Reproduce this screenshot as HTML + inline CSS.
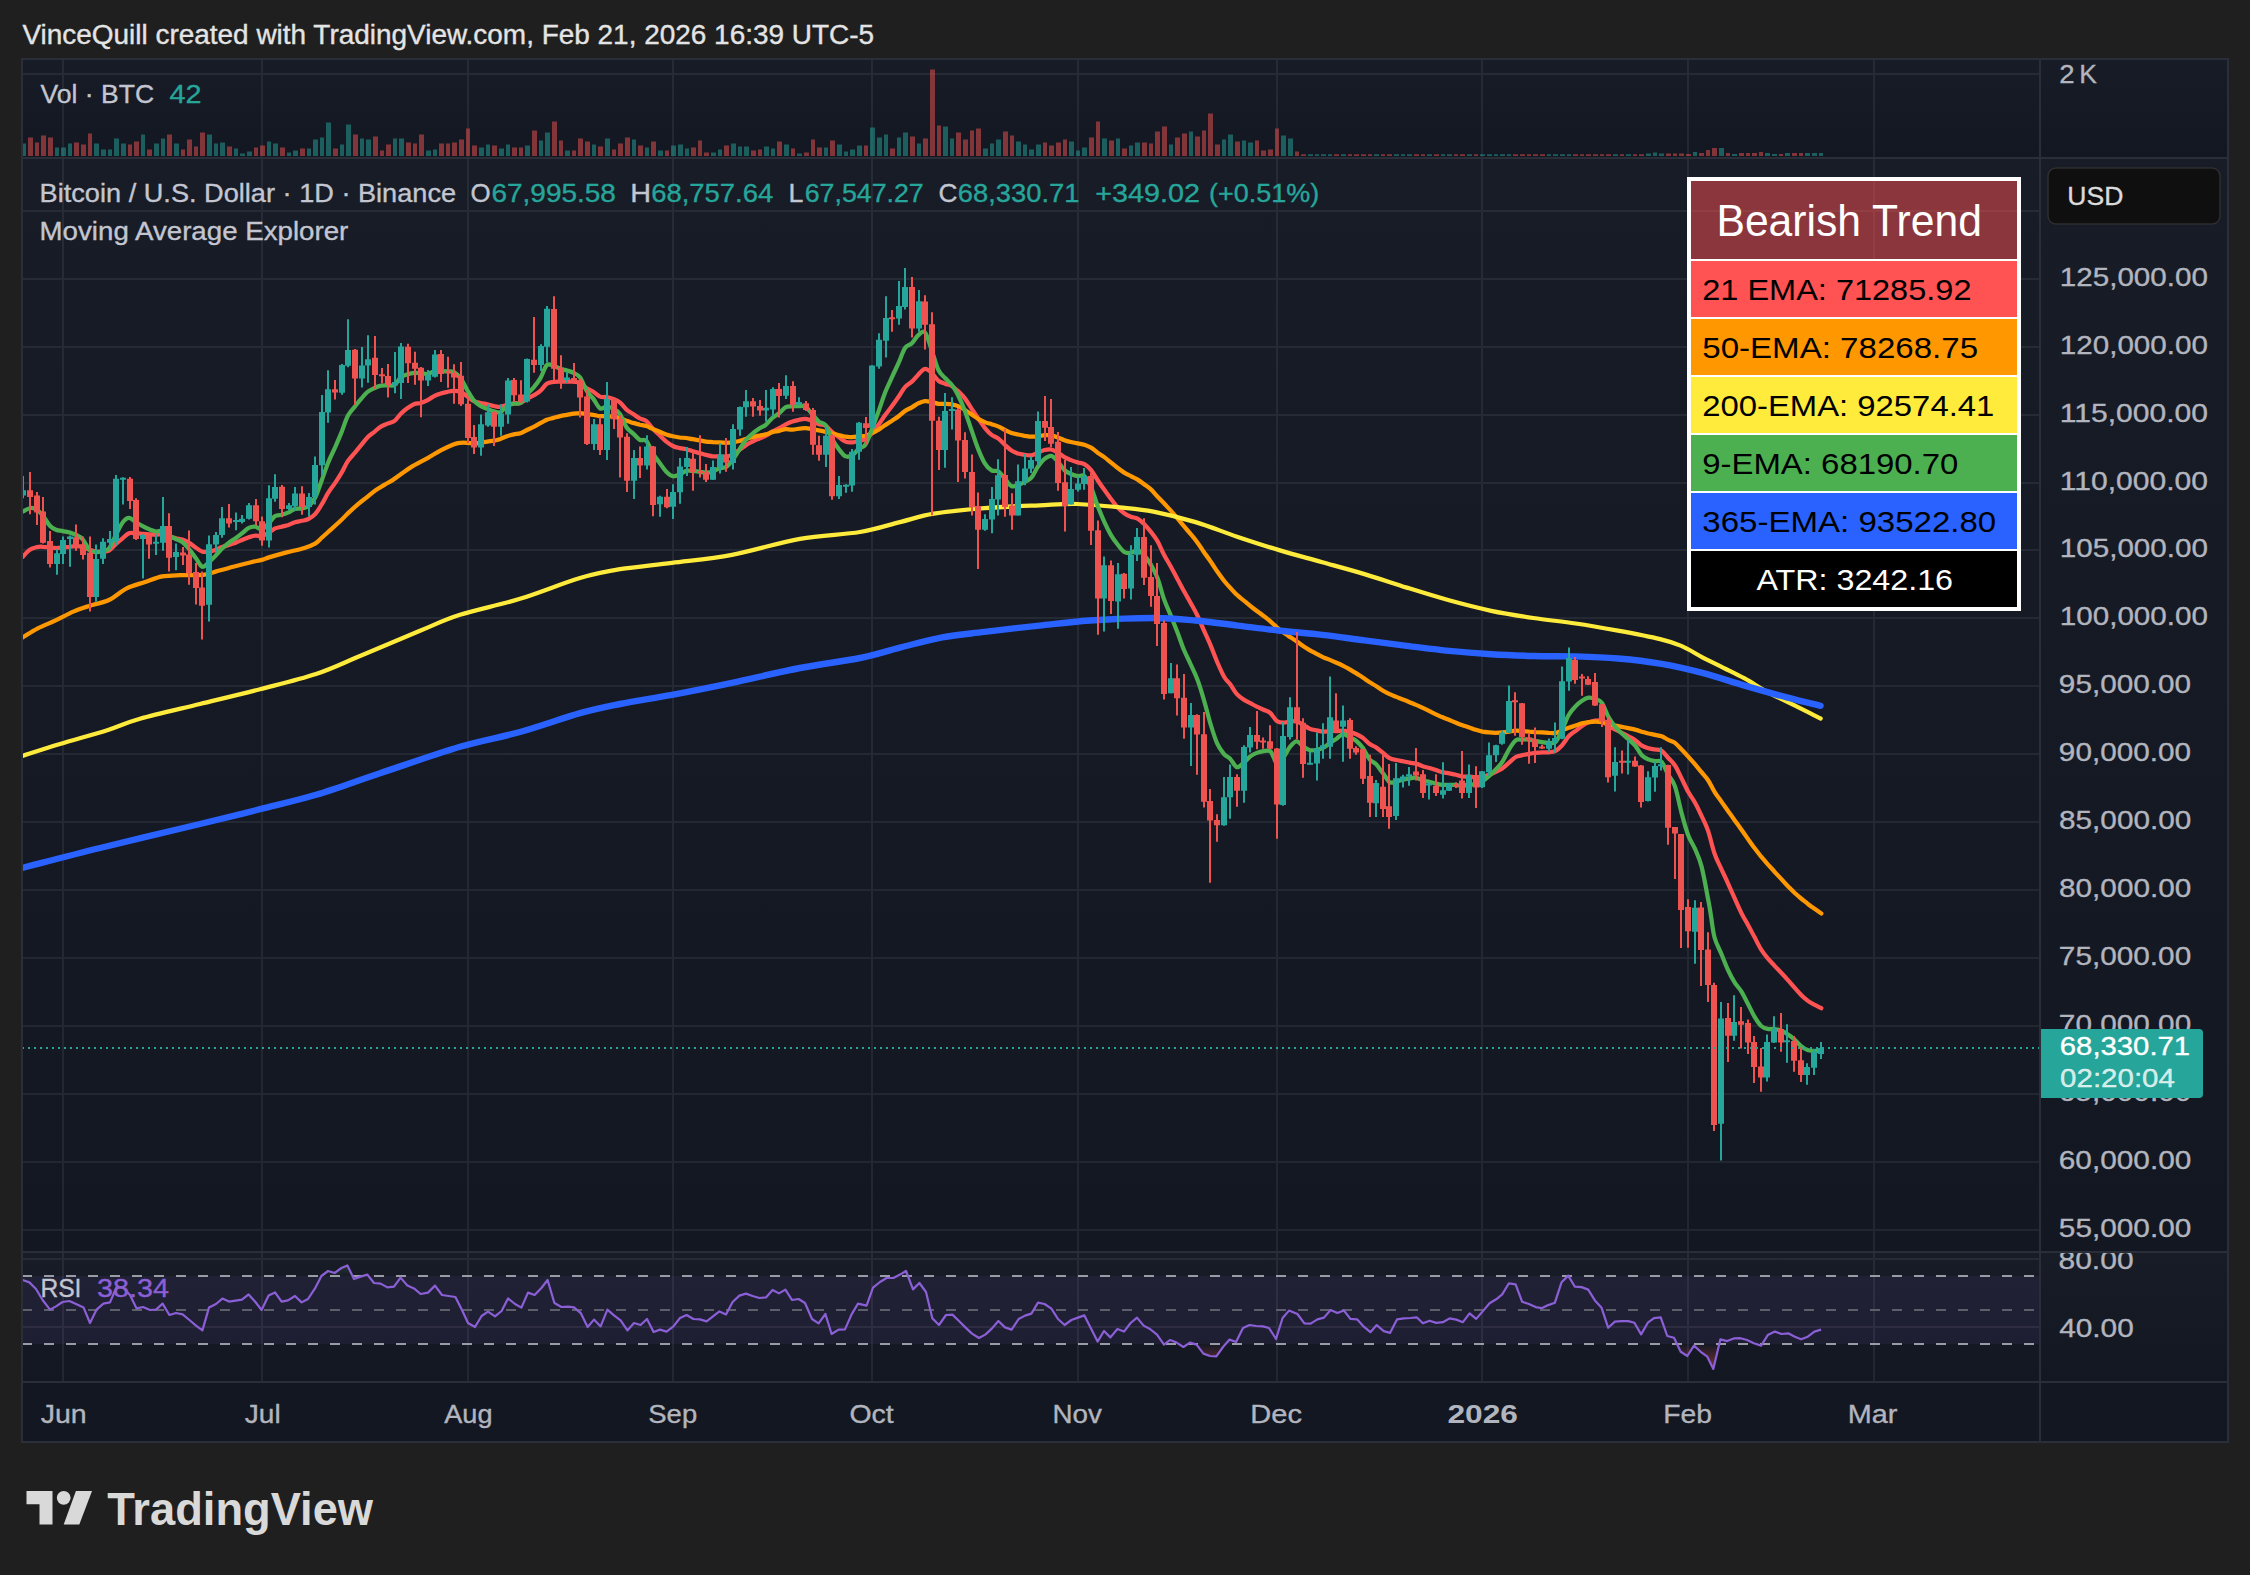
<!DOCTYPE html>
<html lang="en"><head><meta charset="utf-8"><title>BTCUSD chart</title><style>html,body{margin:0;padding:0;background:#1f1f1f;overflow:hidden}svg{display:block}</style></head><body>
<svg width="2250" height="1575" viewBox="0 0 2250 1575" font-family='"Liberation Sans", Arial, Helvetica, sans-serif'>
<defs><linearGradient id="bg" x1="0" y1="0" x2="0" y2="1"><stop offset="0" stop-color="#181c27"/><stop offset="1" stop-color="#131722"/></linearGradient><clipPath id="cm"><rect x="23" y="159" width="2016" height="1092"/></clipPath><clipPath id="cv"><rect x="23" y="60" width="2016" height="97"/></clipPath><clipPath id="cr"><rect x="23" y="1253" width="2016" height="128"/></clipPath><clipPath id="cra"><rect x="2041" y="1253" width="186" height="128"/></clipPath><clipPath id="cma"><rect x="2041" y="159" width="186" height="1092"/></clipPath><clipPath id="lo"><rect x="22" y="1344" width="2018" height="40"/></clipPath><clipPath id="hi"><rect x="22" y="1240" width="2018" height="36"/></clipPath><linearGradient id="os" gradientUnits="userSpaceOnUse" x1="0" y1="1344" x2="0" y2="1376"><stop offset="0" stop-color="#ef5350" stop-opacity="0"/><stop offset="1" stop-color="#ef5350" stop-opacity="0.6"/></linearGradient><linearGradient id="ob" gradientUnits="userSpaceOnUse" x1="0" y1="1276" x2="0" y2="1256"><stop offset="0" stop-color="#4caf50" stop-opacity="0"/><stop offset="1" stop-color="#4caf50" stop-opacity="0.35"/></linearGradient></defs>
<rect width="2250" height="1575" fill="#1f1f1f"/>
<rect x="22" y="59" width="2206" height="99" fill="url(#bg)"/>
<rect x="22" y="158" width="2206" height="1094" fill="url(#bg)"/>
<rect x="22" y="1252" width="2206" height="130" fill="url(#bg)"/>
<rect x="22" y="1382" width="2206" height="60" fill="#131722"/>
<path d="M63 60V1381M262 60V1381M468 60V1381M673 60V1381M872 60V1381M1078 60V1381M1277 60V1381M1482 60V1381M1688 60V1381M1874 60V1381M23 1230H2039M23 1162H2039M23 1094H2039M23 1026H2039M23 958H2039M23 890H2039M23 822H2039M23 754H2039M23 686H2039M23 618H2039M23 550H2039M23 483H2039M23 415H2039M23 347H2039M23 279H2039M23 211H2039M23 74H2039M23 1259H2039M23 1327H2039" stroke="rgba(240,243,250,0.07)" stroke-width="2" fill="none"/>
<rect x="23" y="1276" width="2016" height="68" fill="rgba(126,87,194,0.1)"/>
<path d="M22 1276H2039M22 1344H2039" stroke="#9a9ca5" stroke-width="2" stroke-dasharray="10 12" fill="none"/>
<path d="M22 1310H2039" stroke="#5d606b" stroke-width="2" stroke-dasharray="10 12" fill="none"/>
<g clip-path="url(#cv)"><path d="M21 156v-12.6h5v12.6zM55 156v-8.6h4v8.6zM61 156v-8.6h5v8.6zM68 156v-12.6h4v12.6zM94 156v-12.6h5v12.6zM101 156v-6.6h5v6.6zM108 156v-6.6h4v6.6zM114 156v-17.6h5v17.6zM121 156v-12.6h5v12.6zM141 156v-21.6h4v21.6zM154 156v-12.6h5v12.6zM161 156v-17.6h4v17.6zM174 156v-12.6h5v12.6zM207 156v-21.6h5v21.6zM214 156v-12.6h4v12.6zM220 156v-13.6h5v13.6zM234 156v-7.6h4v7.6zM240 156v-2.6h5v2.6zM247 156v-4.6h5v4.6zM267 156v-14.6h4v14.6zM273 156v-12.6h5v12.6zM287 156v-3.6h4v3.6zM293 156v-5.6h5v5.6zM307 156v-7.6h4v7.6zM313 156v-16.6h5v16.6zM320 156v-18.6h4v18.6zM326 156v-33.6h5v33.6zM340 156v-11.6h4v11.6zM346 156v-31.6h5v31.6zM360 156v-17.6h4v17.6zM366 156v-16.6h5v16.6zM393 156v-17.6h4v17.6zM399 156v-17.6h5v17.6zM426 156v-5.6h5v5.6zM433 156v-6.6h4v6.6zM479 156v-8.6h5v8.6zM486 156v-11.6h4v11.6zM499 156v-7.6h5v7.6zM506 156v-11.6h4v11.6zM525 156v-10.6h5v10.6zM539 156v-15.6h4v15.6zM545 156v-23.6h5v23.6zM565 156v-5.6h5v5.6zM592 156v-11.6h4v11.6zM605 156v-17.6h5v17.6zM632 156v-16.6h4v16.6zM645 156v-8.6h4v8.6zM658 156v-5.6h5v5.6zM671 156v-10.6h5v10.6zM678 156v-11.6h5v11.6zM685 156v-7.6h4v7.6zM711 156v-3.6h5v3.6zM718 156v-6.6h4v6.6zM731 156v-12.6h5v12.6zM738 156v-9.6h4v9.6zM744 156v-9.6h5v9.6zM764 156v-9.6h5v9.6zM771 156v-7.6h4v7.6zM784 156v-11.6h5v11.6zM797 156v-2.6h5v2.6zM824 156v-8.6h4v8.6zM837 156v-11.6h5v11.6zM844 156v-4.6h4v4.6zM850 156v-6.6h5v6.6zM857 156v-10.6h5v10.6zM870 156v-28.6h5v28.6zM877 156v-18.6h5v18.6zM884 156v-21.6h4v21.6zM897 156v-18.6h4v18.6zM903 156v-23.6h5v23.6zM917 156v-12.6h4v12.6zM943 156v-29.6h5v29.6zM950 156v-17.6h4v17.6zM983 156v-7.6h5v7.6zM990 156v-12.6h4v12.6zM996 156v-16.6h5v16.6zM1016 156v-14.6h5v14.6zM1023 156v-11.6h4v11.6zM1029 156v-6.6h5v6.6zM1036 156v-11.6h5v11.6zM1069 156v-14.6h5v14.6zM1076 156v-5.6h4v5.6zM1082 156v-8.6h5v8.6zM1102 156v-17.6h5v17.6zM1116 156v-17.6h4v17.6zM1129 156v-10.6h4v10.6zM1135 156v-13.6h5v13.6zM1169 156v-11.6h4v11.6zM1189 156v-24.6h4v24.6zM1222 156v-16.6h4v16.6zM1228 156v-21.6h5v21.6zM1242 156v-15.6h4v15.6zM1248 156v-13.6h5v13.6zM1281 156v-20.6h5v20.6zM1288 156v-17.6h5v17.6zM1308 156v-1.8h5v1.8zM1315 156v-1.8h4v1.8zM1321 156v-1.8h5v1.8zM1328 156v-1.8h4v1.8zM1341 156v-1.8h5v1.8zM1374 156v-1.8h5v1.8zM1394 156v-1.8h5v1.8zM1401 156v-1.8h4v1.8zM1407 156v-1.8h5v1.8zM1427 156v-1.8h5v1.8zM1441 156v-1.8h4v1.8zM1447 156v-1.8h5v1.8zM1467 156v-1.8h5v1.8zM1480 156v-1.8h5v1.8zM1487 156v-1.8h5v1.8zM1494 156v-1.8h4v1.8zM1500 156v-1.8h5v1.8zM1507 156v-1.8h4v1.8zM1547 156v-1.8h4v1.8zM1553 156v-1.8h5v1.8zM1560 156v-1.8h5v1.8zM1567 156v-1.8h4v1.8zM1613 156v-1.8h5v1.8zM1626 156v-1.8h5v1.8zM1646 156v-2.5h5v2.5zM1653 156v-3.5h4v3.5zM1659 156v-2.5h5v2.5zM1693 156v-4.0h4v4.0zM1719 156v-8.0h5v8.0zM1732 156v-2.0h5v2.0zM1765 156v-3.0h5v3.0zM1772 156v-2.0h5v2.0zM1785 156v-3.0h5v3.0zM1805 156v-3.0h5v3.0zM1812 156v-3.0h5v3.0zM1819 156v-3.0h4v3.0z" fill="rgba(38,166,154,0.5)"/><path d="M28 156v-18.6h5v18.6zM35 156v-13.6h4v13.6zM41 156v-20.6h5v20.6zM48 156v-18.6h5v18.6zM74 156v-13.6h5v13.6zM81 156v-11.6h5v11.6zM88 156v-22.6h4v22.6zM128 156v-11.6h4v11.6zM134 156v-14.6h5v14.6zM147 156v-6.6h5v6.6zM167 156v-21.6h5v21.6zM181 156v-6.6h4v6.6zM187 156v-16.6h5v16.6zM194 156v-9.6h4v9.6zM200 156v-23.6h5v23.6zM227 156v-9.6h5v9.6zM254 156v-8.6h4v8.6zM260 156v-10.6h5v10.6zM280 156v-8.6h5v8.6zM300 156v-7.6h5v7.6zM333 156v-7.6h5v7.6zM353 156v-21.6h5v21.6zM373 156v-19.6h5v19.6zM380 156v-5.6h4v5.6zM386 156v-11.6h5v11.6zM406 156v-13.6h5v13.6zM413 156v-12.6h4v12.6zM419 156v-21.6h5v21.6zM439 156v-12.6h5v12.6zM446 156v-12.6h4v12.6zM452 156v-13.6h5v13.6zM459 156v-16.6h5v16.6zM466 156v-27.6h4v27.6zM472 156v-10.6h5v10.6zM492 156v-10.6h5v10.6zM512 156v-8.6h5v8.6zM519 156v-8.6h4v8.6zM532 156v-25.6h5v25.6zM552 156v-34.6h5v34.6zM559 156v-15.6h4v15.6zM572 156v-5.6h4v5.6zM578 156v-17.6h5v17.6zM585 156v-14.6h5v14.6zM598 156v-9.6h5v9.6zM612 156v-6.6h4v6.6zM618 156v-12.6h5v12.6zM625 156v-18.6h5v18.6zM638 156v-10.6h5v10.6zM651 156v-14.6h5v14.6zM665 156v-5.6h4v5.6zM691 156v-8.6h5v8.6zM698 156v-15.6h4v15.6zM704 156v-3.6h5v3.6zM724 156v-10.6h5v10.6zM751 156v-5.6h5v5.6zM758 156v-6.6h4v6.6zM777 156v-14.6h5v14.6zM791 156v-7.6h4v7.6zM804 156v-3.6h5v3.6zM811 156v-16.6h4v16.6zM817 156v-8.6h5v8.6zM830 156v-15.6h5v15.6zM864 156v-10.6h4v10.6zM890 156v-7.6h5v7.6zM910 156v-19.6h5v19.6zM923 156v-17.6h5v17.6zM930 156v-86.6h5v86.6zM937 156v-30.6h4v30.6zM956 156v-23.6h5v23.6zM963 156v-16.6h5v16.6zM970 156v-25.6h4v25.6zM976 156v-27.6h5v27.6zM1003 156v-24.6h5v24.6zM1010 156v-20.6h4v20.6zM1043 156v-13.6h4v13.6zM1049 156v-10.6h5v10.6zM1056 156v-13.6h5v13.6zM1063 156v-16.6h4v16.6zM1089 156v-18.6h5v18.6zM1096 156v-34.6h4v34.6zM1109 156v-15.6h5v15.6zM1122 156v-7.6h5v7.6zM1142 156v-13.6h5v13.6zM1149 156v-12.6h4v12.6zM1155 156v-24.6h5v24.6zM1162 156v-29.6h5v29.6zM1175 156v-18.6h5v18.6zM1182 156v-22.6h5v22.6zM1195 156v-19.6h5v19.6zM1202 156v-25.6h4v25.6zM1208 156v-42.6h5v42.6zM1215 156v-11.6h5v11.6zM1235 156v-14.6h5v14.6zM1255 156v-15.6h4v15.6zM1261 156v-5.6h5v5.6zM1268 156v-6.6h5v6.6zM1275 156v-27.6h4v27.6zM1295 156v-4.6h4v4.6zM1301 156v-1.8h5v1.8zM1334 156v-1.8h5v1.8zM1348 156v-1.8h4v1.8zM1354 156v-1.8h5v1.8zM1361 156v-1.8h5v1.8zM1368 156v-1.8h4v1.8zM1381 156v-1.8h4v1.8zM1387 156v-1.8h5v1.8zM1414 156v-1.8h5v1.8zM1421 156v-1.8h4v1.8zM1434 156v-1.8h5v1.8zM1454 156v-1.8h4v1.8zM1460 156v-1.8h5v1.8zM1474 156v-1.8h4v1.8zM1513 156v-1.8h5v1.8zM1520 156v-1.8h5v1.8zM1527 156v-1.8h4v1.8zM1533 156v-1.8h5v1.8zM1540 156v-1.8h5v1.8zM1573 156v-1.8h5v1.8zM1580 156v-1.8h4v1.8zM1586 156v-1.8h5v1.8zM1593 156v-1.8h5v1.8zM1600 156v-1.8h4v1.8zM1606 156v-1.8h5v1.8zM1620 156v-1.8h4v1.8zM1633 156v-1.8h4v1.8zM1639 156v-1.8h5v1.8zM1666 156v-2.5h5v2.5zM1673 156v-2.5h4v2.5zM1679 156v-2.5h5v2.5zM1686 156v-2.0h5v2.0zM1699 156v-3.0h5v3.0zM1706 156v-6.0h4v6.0zM1712 156v-8.0h5v8.0zM1726 156v-3.0h4v3.0zM1739 156v-3.0h5v3.0zM1746 156v-3.0h4v3.0zM1752 156v-3.0h5v3.0zM1759 156v-4.0h4v4.0zM1779 156v-2.0h4v2.0zM1792 156v-3.0h5v3.0zM1799 156v-3.0h4v3.0z" fill="rgba(239,83,80,0.5)"/></g>
<g clip-path="url(#cm)">
<path d="M22.7 556.9C23.9 555.7 27.4 551.4 29.8 549.8C32.1 548.1 34.7 547.6 36.9 547.1C39.1 546.6 40.9 546.7 43.1 546.8C45.3 546.8 47.7 547.3 49.9 547.5C52.0 547.7 54.0 548.0 56.1 548.0C58.2 548.0 60.4 547.7 62.7 547.5C64.9 547.3 67.6 547.0 69.8 546.8C72.0 546.5 73.9 546.2 76.0 546.2C78.1 546.2 80.4 546.2 82.6 546.8C84.8 547.3 87.1 549.0 89.3 549.8C91.6 550.6 93.9 551.3 96.1 551.6C98.3 551.9 100.5 551.7 102.7 551.6C104.8 551.4 106.7 551.9 108.9 550.7C111.1 549.4 113.7 546.0 116.0 543.9C118.3 541.8 120.6 540.0 122.8 538.2C124.9 536.4 126.8 534.1 129.0 533.2C131.2 532.4 133.6 533.2 135.9 533.2C138.2 533.3 140.4 533.6 142.7 533.8C144.9 534.0 147.0 534.2 149.2 534.3C151.5 534.5 153.7 534.7 156.0 534.7C158.3 534.7 160.6 534.1 162.8 534.3C164.9 534.5 166.8 535.4 169.0 536.1C171.2 536.7 173.7 537.6 175.9 538.2C178.1 538.8 180.1 538.9 182.3 539.6C184.5 540.4 186.7 541.4 188.9 542.7C191.1 544.0 193.4 546.0 195.6 547.5C197.9 548.9 200.0 550.9 202.2 551.6C204.4 552.2 206.8 551.9 209.0 551.6C211.2 551.3 213.4 550.5 215.6 549.8C217.7 549.0 219.9 547.9 222.1 547.1C224.4 546.3 226.6 545.7 228.9 545.0C231.1 544.2 233.4 543.5 235.6 542.7C237.9 541.8 240.0 540.9 242.2 540.0C244.4 539.1 246.6 538.1 248.8 537.3C251.0 536.6 253.0 535.8 255.2 535.6C257.4 535.3 259.5 536.6 261.8 536.1C264.1 535.6 266.7 533.8 268.9 532.5C271.1 531.3 273.0 529.4 275.1 528.4C277.2 527.5 279.5 527.3 281.7 526.7C283.9 526.1 286.2 525.6 288.4 524.9C290.7 524.1 292.8 522.9 295.0 522.2C297.2 521.5 299.6 521.3 301.8 520.8C304.0 520.3 306.1 520.1 308.4 519.0C310.6 517.9 312.9 516.7 315.1 514.2C317.3 511.8 319.5 508.0 321.7 504.4C323.9 500.9 325.9 496.4 328.1 492.9C330.3 489.3 332.7 486.5 335.0 483.1C337.3 479.7 339.6 476.1 341.8 472.4C343.9 468.7 345.8 464.1 348.0 460.9C350.2 457.6 352.5 455.6 354.8 452.9C357.0 450.2 359.1 447.6 361.3 444.9C363.5 442.2 365.7 439.1 367.9 436.9C370.1 434.7 372.5 433.3 374.7 431.6C376.8 429.8 378.7 427.9 380.9 426.6C383.1 425.2 385.4 424.5 387.6 423.6C389.9 422.6 392.4 422.5 394.6 420.9C396.8 419.3 398.6 415.9 400.8 413.8C403.0 411.6 405.3 409.7 407.6 408.1C409.8 406.5 412.1 404.9 414.3 404.0C416.5 403.1 418.6 403.6 420.8 403.0C423.0 402.3 425.3 401.3 427.6 400.1C429.8 399.0 431.9 397.3 434.1 396.2C436.3 395.1 438.5 394.3 440.7 393.6C442.9 392.8 445.2 392.2 447.5 391.8C449.7 391.3 451.9 390.9 454.0 390.9C456.2 390.9 458.4 390.9 460.6 391.8C462.8 392.7 465.0 394.7 467.2 396.2C469.4 397.8 471.7 400.1 474.0 401.2C476.2 402.3 478.3 402.5 480.5 403.0C482.7 403.5 484.9 403.7 487.1 404.2C489.3 404.7 491.6 405.6 493.9 406.0C496.1 406.4 498.3 407.1 500.4 406.9C502.6 406.7 504.8 405.3 507.0 404.8C509.2 404.2 511.6 403.6 513.8 403.3C516.0 403.0 518.2 403.7 520.4 403.0C522.5 402.2 524.7 400.2 526.9 398.9C529.2 397.6 531.5 396.7 533.7 395.3C535.9 394.0 538.1 392.8 540.3 390.9C542.5 389.0 544.6 385.3 546.8 383.8C549.1 382.3 551.4 382.4 553.6 382.0C555.8 381.6 558.0 381.7 560.2 381.6C562.4 381.6 564.5 381.6 566.8 381.6C569.0 381.6 571.3 381.4 573.5 381.6C575.7 381.9 577.9 381.8 580.1 382.9C582.3 384.0 584.4 386.7 586.7 388.2C588.9 389.7 591.2 390.4 593.4 391.8C595.6 393.2 597.8 395.7 600.0 396.6C602.2 397.5 604.4 396.7 606.6 397.1C608.8 397.5 611.1 398.0 613.3 398.9C615.6 399.8 617.7 400.7 619.9 402.4C622.1 404.2 624.3 407.6 626.5 409.6C628.7 411.5 631.0 412.5 633.2 414.0C635.5 415.5 637.6 417.3 639.8 418.4C642.0 419.6 644.2 419.3 646.4 421.1C648.6 422.9 650.9 426.7 653.2 429.1C655.4 431.5 657.5 433.3 659.7 435.3C661.9 437.4 664.1 439.8 666.3 441.6C668.5 443.3 670.7 444.9 672.9 446.0C675.1 447.1 677.4 447.6 679.6 448.1C681.9 448.7 684.0 448.7 686.2 449.2C688.4 449.7 690.6 450.7 692.8 451.3C695.0 452.0 697.3 452.5 699.6 453.1C701.8 453.7 703.9 454.4 706.1 454.9C708.3 455.4 710.5 456.1 712.7 456.3C714.9 456.5 717.2 456.3 719.5 456.3C721.7 456.4 723.9 457.0 726.0 456.7C728.2 456.4 730.4 455.7 732.6 454.5C734.8 453.4 737.2 451.5 739.4 449.9C741.6 448.3 743.8 446.5 746.0 445.1C748.1 443.7 750.3 442.7 752.5 441.6C754.8 440.5 757.1 439.5 759.3 438.5C761.5 437.6 763.7 436.9 765.9 435.7C768.1 434.5 770.2 432.7 772.4 431.4C774.7 430.2 777.0 429.4 779.2 428.2C781.4 427.0 783.6 425.4 785.8 424.3C788.0 423.2 790.2 422.3 792.4 421.6C794.7 420.8 796.8 420.2 799.0 419.8C801.2 419.3 803.4 418.7 805.6 418.9C807.8 419.1 810.1 420.1 812.4 421.0C814.6 421.9 816.7 423.5 818.9 424.2C821.1 425.0 823.3 424.3 825.5 425.6C827.7 427.0 830.0 430.3 832.3 432.2C834.5 434.1 836.7 435.5 838.8 437.0C841.0 438.6 843.2 440.8 845.4 441.6C847.6 442.5 850.0 442.5 852.2 442.4C854.4 442.2 856.6 441.1 858.8 440.6C860.9 440.1 863.1 440.6 865.3 439.3C867.6 438.0 869.9 435.2 872.1 432.8C874.3 430.3 876.5 427.5 878.7 424.6C880.9 421.6 883.0 418.1 885.2 415.0C887.5 411.9 889.8 409.1 892.0 406.1C894.2 403.0 896.4 399.9 898.6 396.7C900.8 393.5 902.9 389.4 905.2 386.9C907.4 384.4 909.7 383.6 911.9 381.6C914.1 379.5 916.3 376.6 918.5 374.4C920.7 372.3 922.8 369.0 925.1 368.8C927.3 368.5 929.6 371.0 931.8 373.0C934.0 375.0 936.2 378.9 938.4 380.7C940.6 382.4 942.8 382.8 945.0 383.7C947.2 384.6 949.5 384.7 951.7 386.0C954.0 387.3 956.1 389.3 958.3 391.3C960.5 393.4 962.7 395.6 964.9 398.4C967.1 401.3 969.4 405.2 971.6 408.6C973.9 411.9 976.0 415.3 978.2 418.5C980.4 421.7 982.6 425.1 984.8 427.8C987.0 430.5 989.3 433.1 991.6 434.9C993.8 436.7 995.9 436.8 998.1 438.4C1000.3 440.1 1002.5 442.7 1004.7 444.7C1006.9 446.7 1009.2 449.1 1011.5 450.5C1013.7 452.0 1015.9 452.8 1018.0 453.6C1020.2 454.3 1022.4 454.5 1024.6 454.8C1026.8 455.1 1029.2 455.7 1031.4 455.3C1033.6 455.0 1035.8 453.6 1038.0 452.7C1040.1 451.8 1042.3 450.5 1044.5 450.0C1046.8 449.5 1049.1 449.0 1051.3 449.5C1053.5 449.9 1055.7 451.4 1057.9 452.7C1060.1 453.9 1062.3 455.9 1064.4 457.1C1066.6 458.4 1068.8 459.2 1071.0 460.1C1073.2 461.0 1075.6 461.8 1077.8 462.4C1080.0 463.1 1082.1 462.9 1084.4 464.2C1086.6 465.5 1088.9 467.4 1091.1 470.1C1093.3 472.8 1095.5 476.9 1097.7 480.2C1099.9 483.5 1102.0 486.6 1104.3 489.8C1106.5 492.9 1108.8 496.1 1111.0 499.0C1113.2 501.9 1115.4 504.8 1117.6 507.2C1119.8 509.6 1122.0 511.6 1124.2 513.2C1126.4 514.8 1128.5 515.9 1130.8 516.8C1133.0 517.7 1135.3 517.4 1137.5 518.6C1139.7 519.8 1141.9 521.7 1144.1 523.9C1146.3 526.1 1148.4 528.7 1150.7 531.6C1152.9 534.4 1155.2 537.1 1157.4 541.0C1159.6 544.8 1161.8 550.5 1164.0 554.7C1166.2 558.9 1168.4 562.2 1170.6 566.2C1172.8 570.2 1175.1 574.5 1177.3 578.7C1179.6 582.8 1181.7 587.1 1183.9 591.1C1186.1 595.1 1188.3 598.7 1190.5 602.7C1192.7 606.7 1195.0 610.5 1197.2 615.1C1199.5 619.7 1201.7 625.3 1203.8 630.2C1206.0 635.1 1208.0 639.1 1210.2 644.4C1212.5 649.8 1215.0 656.7 1217.3 662.2C1219.7 667.7 1222.3 673.6 1224.4 677.3C1226.6 681.0 1228.3 681.6 1230.4 684.4C1232.4 687.3 1234.7 691.7 1236.9 694.2C1239.2 696.7 1241.5 698.1 1243.7 699.6C1245.9 701.0 1248.1 701.9 1250.3 703.1C1252.5 704.3 1254.6 705.6 1256.8 706.7C1259.1 707.8 1261.4 708.7 1263.6 709.7C1265.8 710.7 1268.0 711.0 1270.2 712.9C1272.4 714.8 1274.5 719.3 1276.8 720.9C1279.0 722.5 1281.3 722.6 1283.5 722.7C1285.7 722.8 1287.9 721.6 1290.1 721.4C1292.3 721.2 1294.4 720.8 1296.7 721.4C1298.9 722.0 1301.2 723.7 1303.4 725.0C1305.6 726.2 1307.8 728.0 1310.0 728.9C1312.2 729.8 1314.4 729.9 1316.6 730.3C1318.8 730.8 1321.1 731.4 1323.3 731.6C1325.6 731.7 1327.7 731.1 1329.9 731.0C1332.1 730.9 1334.3 731.1 1336.5 731.0C1338.7 731.0 1341.0 730.5 1343.2 730.7C1345.5 730.8 1347.6 731.5 1349.8 732.1C1352.0 732.7 1354.2 733.2 1356.4 734.2C1358.6 735.2 1360.9 736.5 1363.2 738.1C1365.4 739.8 1367.5 742.4 1369.7 744.0C1371.9 745.6 1374.1 746.1 1376.3 747.6C1378.5 749.0 1380.8 751.1 1383.1 752.9C1385.3 754.7 1387.5 757.0 1389.6 758.2C1391.8 759.4 1394.0 759.5 1396.2 760.0C1398.4 760.5 1400.8 760.8 1403.0 761.2C1405.2 761.7 1407.4 762.3 1409.6 762.7C1411.7 763.1 1413.9 763.0 1416.1 763.6C1418.3 764.1 1420.5 765.5 1422.7 766.2C1424.9 767.0 1427.2 767.3 1429.5 768.0C1431.7 768.7 1433.9 769.4 1436.0 770.1C1438.2 770.9 1440.4 771.9 1442.6 772.4C1444.8 773.0 1447.2 772.9 1449.4 773.3C1451.6 773.7 1453.8 774.2 1456.0 774.8C1458.1 775.3 1460.3 776.2 1462.5 776.5C1464.8 776.8 1467.1 776.4 1469.3 776.5C1471.5 776.7 1473.7 777.2 1475.9 777.2C1478.1 777.2 1480.2 776.9 1482.4 776.5C1484.7 776.1 1487.0 775.5 1489.2 774.8C1491.4 774.0 1493.6 773.0 1495.8 771.9C1498.0 770.8 1500.1 769.9 1502.4 768.4C1504.6 766.8 1506.9 764.6 1509.1 762.7C1511.3 760.8 1513.5 758.2 1515.7 757.0C1517.9 755.7 1520.0 755.7 1522.3 755.2C1524.5 754.7 1526.8 754.2 1529.0 753.8C1531.2 753.4 1533.4 753.1 1535.6 752.9C1537.8 752.7 1540.0 752.5 1542.2 752.4C1544.4 752.3 1546.6 752.6 1548.8 752.3C1551.0 752.1 1553.3 752.1 1555.6 750.9C1557.8 749.7 1559.9 747.6 1562.1 745.2C1564.3 742.8 1566.5 738.7 1568.7 736.3C1570.9 733.9 1573.2 732.7 1575.5 731.0C1577.7 729.3 1579.9 727.4 1582.0 726.0C1584.2 724.6 1586.4 723.3 1588.6 722.4C1590.8 721.6 1593.2 721.0 1595.4 720.7C1597.6 720.4 1599.8 719.8 1602.0 720.7C1604.1 721.6 1606.3 724.5 1608.5 726.0C1610.8 727.5 1613.1 728.4 1615.3 729.6C1617.5 730.7 1619.7 731.6 1621.9 732.8C1624.1 733.9 1626.2 735.1 1628.4 736.3C1630.7 737.6 1633.0 738.7 1635.2 740.2C1637.4 741.8 1639.6 744.2 1641.8 745.6C1644.0 746.9 1646.1 747.6 1648.4 748.2C1650.6 748.9 1652.9 749.0 1655.1 749.5C1657.3 749.9 1659.5 749.5 1661.7 750.9C1663.9 752.3 1666.0 755.6 1668.3 758.0C1670.5 760.4 1672.8 762.1 1675.0 765.5C1677.2 768.9 1679.4 774.1 1681.6 778.4C1683.8 782.8 1686.0 787.8 1688.2 791.8C1690.4 795.8 1692.7 798.4 1694.9 802.4C1697.2 806.4 1699.3 811.0 1701.5 815.8C1703.7 820.5 1705.9 824.5 1708.1 830.9C1710.3 837.3 1712.4 847.6 1714.7 854.0C1716.9 860.4 1719.2 864.2 1721.4 869.1C1723.6 874.0 1724.7 876.1 1728.0 883.3C1731.3 890.6 1738.0 905.9 1741.3 912.8C1744.7 919.6 1745.7 920.6 1747.9 924.7C1750.1 928.7 1752.3 933.0 1754.5 937.1C1756.7 941.3 1759.0 946.0 1761.2 949.6C1763.5 953.1 1765.6 955.8 1767.8 958.4C1770.0 961.1 1772.2 963.2 1774.4 965.6C1776.6 967.9 1778.9 970.3 1781.2 972.7C1783.4 975.0 1785.5 977.3 1787.7 979.8C1789.9 982.2 1792.1 984.9 1794.3 987.4C1796.5 989.9 1798.8 992.7 1801.1 994.9C1803.3 997.1 1805.5 998.9 1807.6 1000.6C1809.8 1002.2 1811.9 1003.4 1814.2 1004.7C1816.5 1005.9 1820.1 1007.6 1821.3 1008.2" stroke="#ff5252" stroke-width="4.25" fill="none" stroke-linejoin="round" stroke-linecap="round"/>
<path d="M22.7 637.3C25.2 635.9 32.3 631.3 37.8 628.4C43.3 625.6 49.6 623.3 55.6 620.4C61.5 617.6 67.7 614.0 73.3 611.6C79.0 609.1 83.4 607.8 89.3 605.9C95.3 603.9 102.7 602.9 108.9 600.0C115.1 597.1 120.7 591.4 126.7 588.4C132.6 585.5 138.5 584.2 144.4 582.2C150.4 580.2 156.3 577.6 162.2 576.4C168.1 575.3 174.1 575.4 180.0 575.2C185.9 575.0 192.9 575.4 197.8 575.2C202.6 575.0 206.0 574.4 209.0 573.8C211.9 573.2 211.5 572.8 215.6 571.6C219.6 570.5 227.4 568.2 233.3 566.7C239.3 565.1 246.4 563.3 251.1 562.2C255.9 561.1 258.8 560.7 261.8 559.9C264.7 559.1 264.7 558.7 268.9 557.4C273.0 556.2 280.7 554.0 286.7 552.4C292.6 550.9 299.7 549.5 304.4 548.0C309.2 546.5 312.1 545.3 315.1 543.6C318.1 541.8 319.6 539.7 322.2 537.3C324.9 535.0 328.1 532.0 331.1 529.3C334.1 526.7 337.0 524.1 340.0 521.3C343.0 518.5 345.9 515.3 348.9 512.4C351.9 509.6 354.8 507.0 357.8 504.4C360.7 501.9 363.7 499.7 366.7 497.3C369.6 495.0 372.6 492.3 375.6 490.2C378.5 488.1 381.5 486.7 384.4 484.9C387.4 483.1 390.4 481.5 393.3 479.6C396.3 477.6 399.3 475.4 402.2 473.3C405.2 471.3 406.9 469.7 411.1 467.1C415.3 464.6 422.6 460.9 427.6 458.1C432.5 455.3 436.3 452.8 440.7 450.4C445.1 448.1 450.7 445.5 454.0 444.2C457.4 442.9 458.4 443.0 460.6 442.8C462.8 442.6 465.0 442.7 467.2 442.8C469.4 442.9 471.7 443.3 474.0 443.3C476.2 443.3 478.3 443.1 480.5 442.8C482.7 442.5 484.9 441.9 487.1 441.6C489.3 441.2 491.6 441.1 493.9 440.7C496.1 440.2 498.3 439.6 500.4 438.9C502.6 438.1 504.8 437.0 507.0 436.2C509.2 435.5 511.6 434.9 513.8 434.4C516.0 433.9 518.2 433.9 520.4 433.2C522.5 432.5 524.7 431.1 526.9 430.0C529.2 428.9 531.5 427.9 533.7 426.8C535.9 425.7 538.1 424.4 540.3 423.2C542.5 422.1 544.6 420.6 546.8 419.7C549.1 418.8 551.4 418.5 553.6 417.9C555.8 417.3 558.0 416.6 560.2 416.1C562.4 415.6 564.5 415.3 566.8 414.9C569.0 414.5 571.3 413.9 573.5 413.6C575.7 413.3 577.9 413.1 580.1 413.1C582.3 413.2 584.4 413.7 586.7 414.0C588.9 414.3 591.2 414.5 593.4 414.9C595.6 415.2 597.8 415.9 600.0 416.1C602.2 416.3 604.4 416.0 606.6 416.1C608.8 416.2 611.1 416.4 613.3 416.7C615.6 417.0 617.7 417.2 619.9 417.9C622.1 418.6 624.3 419.9 626.5 420.8C628.7 421.6 631.0 422.2 633.2 422.9C635.5 423.5 637.6 424.1 639.8 424.7C642.0 425.2 644.2 425.3 646.4 426.1C648.6 426.8 650.9 428.2 653.2 429.1C655.4 430.1 657.5 430.9 659.7 431.8C661.9 432.7 664.1 433.7 666.3 434.4C668.5 435.2 670.7 435.7 672.9 436.2C675.1 436.7 677.4 437.2 679.6 437.5C681.9 437.8 684.0 437.7 686.2 438.0C688.4 438.3 690.6 438.9 692.8 439.2C695.0 439.6 697.3 439.9 699.6 440.3C701.8 440.7 703.9 441.3 706.1 441.6C708.3 441.9 710.5 441.9 712.7 442.1C714.9 442.2 717.2 442.3 719.5 442.4C721.7 442.6 723.9 442.8 726.0 442.8C728.2 442.8 730.4 442.7 732.6 442.4C734.8 442.1 737.2 441.6 739.4 441.0C741.6 440.4 743.8 439.5 746.0 438.9C748.1 438.2 750.3 437.6 752.5 437.1C754.8 436.6 757.1 436.1 759.3 435.7C761.5 435.2 763.7 435.0 765.9 434.4C768.1 433.9 770.2 432.7 772.4 432.1C774.7 431.5 777.0 431.4 779.2 430.9C781.4 430.4 783.6 429.3 785.8 429.1C788.0 428.9 789.1 429.7 792.4 429.6C795.7 429.4 801.2 428.0 805.6 428.1C810.0 428.3 814.5 429.6 818.9 430.4C823.4 431.3 827.9 432.4 832.3 433.5C836.7 434.5 842.1 436.1 845.4 436.7C848.7 437.3 850.0 437.1 852.2 437.0C854.4 437.0 856.6 436.5 858.8 436.3C860.9 436.1 863.1 436.3 865.3 435.8C867.6 435.2 869.9 434.1 872.1 433.1C874.3 432.1 876.5 430.9 878.7 429.6C880.9 428.2 883.0 426.6 885.2 425.1C887.5 423.6 889.8 422.1 892.0 420.7C894.2 419.2 896.4 417.9 898.6 416.2C900.8 414.6 902.9 412.4 905.2 410.9C907.4 409.4 909.7 408.6 911.9 407.3C914.1 406.1 916.3 404.3 918.5 403.2C920.7 402.2 922.8 401.3 925.1 401.1C927.3 400.9 929.6 401.6 931.8 402.0C934.0 402.4 936.2 403.5 938.4 403.8C940.6 404.1 942.8 403.7 945.0 403.8C947.2 403.9 949.5 403.9 951.7 404.3C954.0 404.7 956.1 405.1 958.3 406.1C960.5 407.0 962.7 408.6 964.9 410.0C967.1 411.4 969.4 413.0 971.6 414.4C973.9 415.9 976.0 417.6 978.2 418.9C980.4 420.2 982.6 421.2 984.8 422.1C987.0 423.0 989.3 423.5 991.6 424.2C993.8 424.9 995.9 425.4 998.1 426.4C1000.3 427.3 1002.5 428.8 1004.7 429.9C1006.9 431.0 1009.2 432.3 1011.5 433.1C1013.7 433.9 1015.9 434.1 1018.0 434.5C1020.2 435.0 1022.4 435.4 1024.6 435.8C1026.8 436.1 1029.2 436.6 1031.4 436.7C1033.6 436.8 1035.8 436.5 1038.0 436.3C1040.1 436.1 1042.3 435.4 1044.5 435.2C1046.8 435.1 1049.1 434.9 1051.3 435.2C1053.5 435.6 1055.7 436.7 1057.9 437.6C1060.1 438.4 1062.3 439.5 1064.4 440.2C1066.6 441.0 1068.8 441.5 1071.0 442.0C1073.2 442.5 1075.6 443.0 1077.8 443.4C1080.0 443.9 1082.1 444.0 1084.4 444.7C1086.6 445.4 1088.9 446.4 1091.1 447.7C1093.3 449.0 1095.5 451.1 1097.7 452.7C1099.9 454.2 1102.1 455.5 1104.3 457.1C1106.5 458.7 1108.7 460.7 1110.8 462.4C1113.0 464.2 1115.2 466.1 1117.4 467.8C1119.6 469.5 1122.0 471.2 1124.2 472.6C1126.4 474.0 1128.6 475.0 1130.8 476.1C1132.9 477.3 1135.1 478.0 1137.3 479.3C1139.6 480.7 1141.9 482.7 1144.1 484.3C1146.3 485.9 1148.5 487.1 1150.7 489.1C1152.9 491.1 1155.0 493.9 1157.2 496.2C1159.5 498.6 1161.8 501.0 1164.0 503.3C1166.2 505.7 1168.4 508.0 1170.6 510.4C1172.8 512.9 1175.1 515.6 1177.3 518.2C1179.6 520.9 1181.7 523.6 1183.9 526.2C1186.1 528.8 1188.3 531.2 1190.5 533.9C1192.7 536.5 1195.0 539.2 1197.2 542.2C1199.5 545.2 1201.7 548.9 1203.8 552.0C1206.0 555.1 1208.0 557.6 1210.2 560.9C1212.5 564.1 1215.0 568.1 1217.3 571.6C1219.7 575.0 1222.1 578.4 1224.4 581.3C1226.8 584.3 1229.2 586.8 1231.6 589.3C1233.9 591.9 1236.3 594.3 1238.7 596.4C1241.0 598.6 1243.4 600.2 1245.8 602.1C1248.1 604.1 1250.5 606.1 1252.9 608.0C1255.3 609.9 1257.6 611.6 1260.0 613.3C1262.4 615.1 1264.7 616.7 1267.1 618.7C1269.5 620.6 1271.9 622.8 1274.2 624.9C1276.6 627.0 1279.0 629.3 1281.3 631.1C1283.7 632.9 1286.1 634.3 1288.4 635.9C1290.8 637.5 1293.1 638.8 1295.6 640.5C1298.1 642.3 1301.0 644.6 1303.4 646.2C1305.8 647.9 1307.8 649.0 1310.0 650.3C1312.2 651.6 1314.4 652.7 1316.6 653.9C1318.8 655.1 1321.1 656.4 1323.3 657.4C1325.6 658.4 1327.7 659.0 1329.9 659.9C1332.1 660.8 1334.3 661.8 1336.5 662.8C1338.7 663.7 1341.0 664.7 1343.2 665.8C1345.5 666.9 1347.6 668.1 1349.8 669.3C1352.0 670.6 1354.2 672.0 1356.4 673.4C1358.6 674.8 1360.9 676.2 1363.2 677.7C1365.4 679.2 1367.5 680.9 1369.7 682.3C1371.9 683.7 1374.1 684.8 1376.3 686.2C1378.5 687.6 1380.8 689.3 1383.1 690.7C1385.3 692.0 1387.5 693.2 1389.6 694.2C1391.8 695.3 1394.0 696.0 1396.2 696.9C1398.4 697.8 1400.8 698.7 1403.0 699.6C1405.2 700.4 1407.4 701.3 1409.6 702.2C1411.7 703.1 1413.9 703.9 1416.1 704.9C1418.3 705.8 1420.5 706.9 1422.7 707.9C1424.9 708.9 1427.2 710.0 1429.5 711.1C1431.7 712.2 1433.9 713.3 1436.0 714.3C1438.2 715.3 1440.4 716.4 1442.6 717.3C1444.8 718.3 1447.2 719.1 1449.4 720.0C1451.6 720.9 1453.8 721.8 1456.0 722.7C1458.1 723.6 1460.3 724.5 1462.5 725.3C1464.8 726.1 1467.1 726.7 1469.3 727.5C1471.5 728.2 1473.7 729.1 1475.9 729.8C1478.1 730.5 1480.2 731.1 1482.4 731.6C1484.7 732.0 1487.0 732.2 1489.2 732.4C1491.4 732.7 1493.6 732.8 1495.8 732.8C1498.0 732.8 1500.1 732.7 1502.4 732.4C1504.6 732.2 1506.9 731.9 1509.1 731.6C1511.3 731.3 1513.5 730.8 1515.7 730.7C1517.9 730.6 1520.0 730.9 1522.3 731.0C1524.5 731.2 1526.8 731.4 1529.0 731.6C1531.2 731.7 1533.4 731.9 1535.6 732.1C1537.8 732.2 1540.0 732.3 1542.2 732.4C1544.4 732.6 1546.6 732.6 1548.8 732.8C1551.0 732.9 1553.3 733.5 1555.6 733.1C1557.8 732.7 1559.9 731.3 1562.1 730.4C1564.3 729.6 1566.5 728.6 1568.7 727.8C1570.9 727.0 1573.2 726.4 1575.5 725.6C1577.7 724.9 1579.9 723.9 1582.0 723.3C1584.2 722.7 1586.4 722.4 1588.6 722.1C1590.8 721.8 1593.2 721.6 1595.4 721.6C1597.6 721.6 1599.8 721.6 1602.0 722.1C1604.1 722.5 1606.3 723.6 1608.5 724.2C1610.8 724.8 1613.1 725.2 1615.3 725.6C1617.5 726.1 1619.7 726.5 1621.9 726.9C1624.1 727.3 1626.2 727.7 1628.4 728.1C1630.7 728.6 1633.0 729.0 1635.2 729.6C1637.4 730.1 1639.6 731.0 1641.8 731.7C1644.0 732.3 1646.1 732.9 1648.4 733.5C1650.6 734.0 1652.9 734.4 1655.1 734.9C1657.3 735.4 1659.5 735.5 1661.7 736.3C1663.9 737.1 1666.0 738.8 1668.3 739.9C1670.5 741.0 1672.8 741.3 1675.0 742.9C1677.2 744.5 1679.4 747.2 1681.6 749.5C1683.8 751.7 1686.0 754.1 1688.2 756.6C1690.4 759.0 1692.7 761.6 1694.9 764.2C1697.2 766.8 1699.3 769.6 1701.5 772.2C1703.7 774.9 1705.9 776.9 1708.1 780.2C1710.3 783.5 1712.4 788.6 1714.7 792.1C1716.9 795.7 1719.2 798.4 1721.4 801.6C1723.6 804.7 1725.8 807.9 1728.0 811.0C1730.2 814.1 1732.4 817.1 1734.6 820.2C1736.8 823.3 1739.1 826.4 1741.3 829.5C1743.6 832.6 1745.7 835.7 1747.9 838.9C1750.1 842.0 1752.4 845.3 1754.7 848.3C1756.9 851.3 1759.1 854.0 1761.2 856.7C1763.4 859.3 1765.6 861.8 1767.8 864.3C1770.0 866.8 1772.4 869.3 1774.6 871.8C1776.8 874.2 1779.0 876.5 1781.2 878.9C1783.3 881.3 1785.5 883.7 1787.7 886.0C1790.0 888.3 1792.3 890.7 1794.5 892.8C1796.7 894.8 1798.9 896.7 1801.1 898.5C1803.3 900.3 1805.5 902.0 1807.6 903.7C1809.8 905.4 1811.9 907.0 1814.2 908.6C1816.5 910.2 1820.1 912.7 1821.3 913.5" stroke="#ff9800" stroke-width="4.25" fill="none" stroke-linejoin="round" stroke-linecap="round"/>
<path d="M22.0 756.0C28.3 754.0 45.7 748.3 60.0 744.0C74.3 739.7 94.7 734.2 108.0 730.0C121.3 725.8 124.7 723.1 140.0 718.8C155.3 714.5 180.0 708.9 200.0 704.0C220.0 699.1 240.7 694.2 260.0 689.2C279.3 684.2 299.3 679.5 316.0 674.0C332.7 668.5 342.7 663.2 360.0 656.0C377.3 648.8 403.3 637.7 420.0 630.8C436.7 623.9 443.3 620.1 460.0 614.8C476.7 609.5 500.0 604.9 520.0 598.8C540.0 592.7 563.3 582.9 580.0 578.0C596.7 573.1 604.7 571.7 620.0 569.2C635.3 566.7 653.3 565.2 672.0 562.8C690.7 560.4 710.7 558.8 732.0 554.8C753.3 550.8 778.7 542.6 800.0 538.8C821.3 535.0 843.3 534.8 860.0 532.0C876.7 529.2 887.7 525.1 900.0 522.1C912.3 519.1 919.7 516.0 933.8 513.7C947.9 511.4 966.9 509.6 984.5 508.2C1002.1 506.8 1023.9 506.0 1039.4 505.3C1054.9 504.6 1064.0 503.6 1077.4 504.0C1090.8 504.4 1106.9 506.1 1119.6 507.4C1132.3 508.7 1140.7 509.2 1153.4 511.6C1166.1 514.1 1181.5 517.9 1195.6 522.1C1209.7 526.3 1223.7 532.2 1237.8 536.9C1251.9 541.6 1265.9 546.2 1280.0 550.4C1294.1 554.6 1308.2 558.3 1322.3 562.3C1336.4 566.2 1350.4 569.9 1364.5 574.1C1378.6 578.3 1392.7 583.2 1406.8 587.6C1420.9 592.0 1434.9 596.4 1449.0 600.3C1463.1 604.2 1477.1 607.8 1491.2 610.8C1505.3 613.8 1519.3 615.9 1533.4 618.0C1547.5 620.1 1561.6 621.4 1575.7 623.5C1589.8 625.6 1603.8 628.1 1617.9 630.7C1632.0 633.3 1649.5 636.6 1660.1 639.1C1670.7 641.6 1674.2 642.9 1681.3 645.9C1688.3 648.9 1695.4 653.6 1702.4 657.3C1709.4 660.9 1716.5 664.3 1723.5 667.8C1730.5 671.3 1737.6 674.5 1744.6 678.4C1751.6 682.3 1758.7 687.2 1765.7 691.1C1772.7 695.0 1779.8 698.1 1786.8 701.6C1793.8 705.1 1802.4 709.4 1808.0 712.2C1813.6 715.0 1818.5 717.5 1820.6 718.5" stroke="#ffeb3b" stroke-width="4.25" fill="none" stroke-linejoin="round" stroke-linecap="round"/>
<path d="M22.7 511.6C24.0 511.0 28.3 508.3 30.7 508.0C33.0 507.7 34.8 508.4 36.9 509.8C39.0 511.1 40.9 513.3 43.1 516.0C45.3 518.7 47.7 523.5 49.9 525.8C52.0 528.1 54.0 528.8 56.1 529.7C58.2 530.6 60.4 530.6 62.7 531.1C64.9 531.6 67.6 531.9 69.8 532.5C72.0 533.2 73.9 533.9 76.0 535.0C78.1 536.1 80.4 536.7 82.6 539.1C84.8 541.6 87.1 547.6 89.3 549.8C91.6 551.9 93.9 551.9 96.1 552.1C98.3 552.3 100.5 551.6 102.7 551.0C104.8 550.4 106.7 551.3 108.9 548.5C111.1 545.8 113.7 539.1 116.0 534.7C118.3 530.3 120.6 525.0 122.8 522.2C124.9 519.4 126.8 517.8 129.0 517.8C131.2 517.8 133.6 520.8 135.9 522.2C138.2 523.6 140.4 524.9 142.7 526.1C144.9 527.3 147.0 528.4 149.2 529.3C151.5 530.2 153.7 531.2 156.0 531.5C158.3 531.7 160.6 530.1 162.8 530.8C164.9 531.4 166.8 534.2 169.0 535.6C171.2 536.9 173.7 538.0 175.9 539.1C178.1 540.2 180.1 540.5 182.3 542.1C184.5 543.8 186.7 546.3 188.9 548.9C191.1 551.5 193.4 554.8 195.6 557.8C197.9 560.7 200.0 565.9 202.2 566.7C204.4 567.4 206.8 564.1 209.0 562.2C211.2 560.4 213.4 557.9 215.6 555.6C217.7 553.4 219.9 550.7 222.1 548.5C224.4 546.4 226.6 544.4 228.9 542.7C231.1 540.9 233.4 539.8 235.6 538.2C237.9 536.7 240.0 535.0 242.2 533.2C244.4 531.5 246.6 529.0 248.8 527.9C251.0 526.8 253.0 526.4 255.2 526.7C257.4 526.9 259.5 529.9 261.8 529.3C264.1 528.7 266.7 525.3 268.9 523.1C271.1 520.9 273.0 517.4 275.1 516.0C277.2 514.6 279.5 515.3 281.7 514.8C283.9 514.2 286.2 513.4 288.4 512.4C290.7 511.5 292.8 509.6 295.0 508.9C297.2 508.2 299.6 508.8 301.8 508.4C304.0 507.9 306.1 508.0 308.4 506.2C310.6 504.4 312.9 502.0 315.1 497.7C317.3 493.4 319.5 486.3 321.7 480.4C323.9 474.6 325.9 468.1 328.1 462.7C330.3 457.2 332.7 452.7 335.0 447.6C337.3 442.4 339.6 436.9 341.8 431.6C343.9 426.2 345.8 419.7 348.0 415.6C350.2 411.4 352.5 409.5 354.8 406.7C357.0 403.9 359.1 401.2 361.3 398.7C363.5 396.1 365.7 393.3 367.9 391.6C370.1 389.8 372.5 389.0 374.7 388.0C376.8 387.0 378.7 386.1 380.9 385.7C383.1 385.2 385.4 385.5 387.6 385.3C389.9 385.2 392.4 386.3 394.6 385.0C396.8 383.6 398.6 379.1 400.8 377.3C403.0 375.6 405.3 375.1 407.6 374.3C409.8 373.6 412.1 373.1 414.3 372.9C416.5 372.7 418.6 372.9 420.8 373.1C423.0 373.3 425.3 374.3 427.6 374.0C429.8 373.7 431.9 371.8 434.1 371.3C436.3 370.8 438.5 371.0 440.7 371.0C442.9 371.0 445.2 371.1 447.5 371.3C449.7 371.5 451.9 371.0 454.0 372.2C456.2 373.4 458.4 375.5 460.6 378.4C462.8 381.4 465.0 386.3 467.2 390.0C469.4 393.7 471.7 398.0 474.0 400.7C476.2 403.3 478.3 404.7 480.5 406.0C482.7 407.3 484.9 407.8 487.1 408.7C489.3 409.6 491.6 410.7 493.9 411.3C496.1 411.9 498.3 413.1 500.4 412.2C502.6 411.3 504.8 407.4 507.0 406.0C509.2 404.6 511.6 404.2 513.8 403.7C516.0 403.2 518.2 404.5 520.4 403.0C522.5 401.4 524.7 397.1 526.9 394.4C529.2 391.8 531.5 390.0 533.7 387.3C535.9 384.7 538.1 382.1 540.3 378.4C542.5 374.7 544.6 367.2 546.8 365.1C549.1 363.0 551.4 365.4 553.6 366.0C555.8 366.6 558.0 367.9 560.2 368.7C562.4 369.4 564.5 369.8 566.8 370.4C569.0 371.1 571.3 371.6 573.5 372.8C575.7 373.9 577.9 374.5 580.1 377.6C582.3 380.6 584.4 387.3 586.7 390.9C588.9 394.4 591.2 396.0 593.4 398.9C595.6 401.8 597.8 407.0 600.0 408.3C602.2 409.6 604.4 406.5 606.6 406.5C608.8 406.6 611.1 407.4 613.3 408.7C615.6 409.9 617.7 410.9 619.9 414.0C622.1 417.1 624.3 424.1 626.5 427.3C628.7 430.6 631.0 431.5 633.2 433.6C635.5 435.6 637.6 438.5 639.8 439.8C642.0 441.0 644.2 438.7 646.4 441.0C648.6 443.4 650.9 450.4 653.2 454.0C655.4 457.6 657.5 459.9 659.7 462.9C661.9 465.9 664.1 469.6 666.3 471.8C668.5 474.0 670.7 475.8 672.9 476.2C675.1 476.7 677.4 475.3 679.6 474.4C681.9 473.6 684.0 471.5 686.2 470.9C688.4 470.3 690.6 470.7 692.8 470.9C695.0 471.0 697.3 471.5 699.6 471.8C701.8 472.1 703.9 472.7 706.1 472.7C708.3 472.7 710.5 472.5 712.7 471.8C714.9 471.0 717.2 469.0 719.5 468.2C721.7 467.4 723.9 468.4 726.0 467.0C728.2 465.6 730.4 462.8 732.6 459.9C734.8 457.0 737.2 452.9 739.4 449.6C741.6 446.2 743.8 442.4 746.0 439.8C748.1 437.1 750.3 435.4 752.5 433.6C754.8 431.7 757.1 430.1 759.3 428.6C761.5 427.1 763.7 426.4 765.9 424.7C768.1 422.9 770.2 419.8 772.4 417.9C774.7 416.0 777.0 414.9 779.2 413.1C781.4 411.3 783.6 408.4 785.8 407.2C788.0 406.1 790.2 406.6 792.4 406.4C794.7 406.3 796.8 406.0 799.0 406.1C801.2 406.1 803.4 405.4 805.6 406.8C807.8 408.2 810.1 412.0 812.4 414.4C814.6 416.9 816.7 419.8 818.9 421.6C821.1 423.3 823.3 422.1 825.5 425.1C827.7 428.1 830.0 435.3 832.3 439.3C834.5 443.3 836.7 446.3 838.8 449.1C841.0 451.9 843.2 455.2 845.4 456.2C847.6 457.3 850.0 456.6 852.2 455.3C854.4 454.1 856.6 450.5 858.8 448.8C860.9 447.0 863.1 448.0 865.3 444.7C867.6 441.3 869.9 434.3 872.1 428.7C874.3 423.0 876.5 417.0 878.7 410.9C880.9 404.8 883.0 397.9 885.2 392.2C887.5 386.6 889.8 382.0 892.0 377.1C894.2 372.2 896.4 367.8 898.6 362.9C900.8 358.0 902.9 351.0 905.2 347.8C907.4 344.5 909.7 345.5 911.9 343.3C914.1 341.2 916.3 336.8 918.5 335.0C920.7 333.2 922.8 330.1 925.1 332.7C927.3 335.2 929.6 344.2 931.8 350.4C934.0 356.7 936.2 365.4 938.4 370.0C940.6 374.6 942.8 375.5 945.0 378.0C947.2 380.5 949.5 381.8 951.7 384.8C954.0 387.7 956.1 391.4 958.3 395.8C960.5 400.1 962.7 405.1 964.9 410.9C967.1 416.7 969.4 424.1 971.6 430.4C973.9 436.8 976.0 443.6 978.2 449.1C980.4 454.6 982.6 459.8 984.8 463.3C987.0 466.9 989.3 469.1 991.6 470.4C993.8 471.8 995.9 470.0 998.1 471.3C1000.3 472.7 1002.5 476.0 1004.7 478.4C1006.9 480.9 1009.2 485.0 1011.5 486.1C1013.7 487.2 1015.9 485.7 1018.0 485.0C1020.2 484.3 1022.4 483.2 1024.6 482.0C1026.8 480.8 1029.2 480.1 1031.4 477.6C1033.6 475.0 1035.8 469.6 1038.0 466.5C1040.1 463.4 1042.3 460.7 1044.5 458.9C1046.8 457.1 1049.1 455.4 1051.3 455.9C1053.5 456.3 1055.7 459.2 1057.9 461.6C1060.1 463.9 1062.3 468.0 1064.4 470.1C1066.6 472.2 1068.8 473.0 1071.0 474.0C1073.2 475.0 1075.6 475.8 1077.8 476.1C1080.0 476.5 1082.1 474.3 1084.4 476.1C1086.6 478.0 1088.9 482.4 1091.1 487.3C1093.3 492.3 1095.5 500.3 1097.7 506.0C1099.9 511.7 1102.0 516.9 1104.3 521.8C1106.5 526.6 1108.8 531.3 1111.0 535.1C1113.2 538.9 1115.4 541.7 1117.6 544.5C1119.8 547.3 1122.0 550.6 1124.2 552.0C1126.4 553.4 1128.5 553.2 1130.8 552.9C1133.0 552.6 1135.3 549.8 1137.5 550.2C1139.7 550.6 1141.9 552.8 1144.1 555.2C1146.3 557.6 1148.4 560.7 1150.7 564.4C1152.9 568.2 1155.2 572.0 1157.4 577.8C1159.6 583.6 1161.8 592.9 1164.0 599.1C1166.2 605.3 1168.4 609.6 1170.6 615.1C1172.8 620.6 1175.1 626.2 1177.3 632.0C1179.6 637.8 1181.7 644.4 1183.9 649.8C1186.1 655.1 1188.3 659.1 1190.5 664.0C1192.7 668.9 1195.0 673.2 1197.2 679.1C1199.5 685.0 1201.6 692.1 1203.8 699.6C1206.0 707.0 1208.2 716.3 1210.4 723.6C1212.6 730.8 1214.8 738.1 1217.0 743.1C1219.2 748.1 1221.6 751.1 1223.8 753.8C1226.0 756.4 1228.2 756.9 1230.4 759.1C1232.5 761.3 1234.7 766.5 1236.9 767.1C1239.2 767.7 1241.5 764.4 1243.7 762.7C1245.9 760.9 1248.1 758.1 1250.3 756.4C1252.5 754.8 1254.6 753.8 1256.8 752.9C1259.1 752.0 1261.4 751.4 1263.6 751.1C1265.8 750.8 1268.5 750.1 1270.2 751.1C1271.8 752.1 1272.5 755.4 1273.6 757.3C1274.7 759.3 1275.1 762.7 1276.8 762.7C1278.4 762.7 1281.3 760.0 1283.5 757.3C1285.7 754.7 1287.9 749.3 1290.1 746.7C1292.3 744.0 1294.4 741.3 1296.7 741.3C1298.9 741.3 1301.2 745.2 1303.4 746.7C1305.6 748.1 1307.8 749.7 1310.0 750.2C1312.2 750.8 1314.4 750.3 1316.6 749.9C1318.8 749.4 1321.1 748.7 1323.3 747.6C1325.6 746.4 1327.7 744.6 1329.9 743.1C1332.1 741.6 1334.3 740.1 1336.5 738.7C1338.7 737.2 1341.0 734.4 1343.2 734.2C1345.5 734.0 1347.6 736.3 1349.8 737.4C1352.0 738.5 1354.2 739.1 1356.4 741.0C1358.6 742.8 1360.9 745.4 1363.2 748.4C1365.4 751.5 1367.5 756.8 1369.7 759.5C1371.9 762.1 1374.1 762.1 1376.3 764.4C1378.5 766.8 1380.8 770.4 1383.1 773.3C1385.3 776.3 1387.5 780.9 1389.6 782.2C1391.8 783.6 1394.0 781.8 1396.2 781.3C1398.4 780.9 1400.8 780.1 1403.0 779.6C1405.2 779.1 1407.4 778.6 1409.6 778.3C1411.7 778.0 1413.9 777.4 1416.1 777.8C1418.3 778.1 1420.5 779.8 1422.7 780.4C1424.9 781.1 1427.2 781.3 1429.5 781.9C1431.7 782.4 1433.9 783.1 1436.0 783.6C1438.2 784.1 1440.4 784.7 1442.6 784.9C1444.8 785.1 1447.2 784.9 1449.4 784.9C1451.6 784.9 1453.8 784.7 1456.0 784.9C1458.1 785.1 1460.3 786.3 1462.5 786.1C1464.8 786.0 1467.1 784.2 1469.3 784.0C1471.5 783.8 1473.7 785.3 1475.9 784.9C1478.1 784.4 1480.2 782.8 1482.4 781.3C1484.7 779.9 1487.0 778.0 1489.2 776.0C1491.4 774.0 1493.6 771.8 1495.8 769.4C1498.0 767.1 1500.1 765.1 1502.4 761.8C1504.6 758.4 1506.9 752.9 1509.1 749.3C1511.3 745.8 1513.5 742.1 1515.7 740.4C1517.9 738.8 1520.0 739.7 1522.3 739.6C1524.5 739.4 1526.8 739.3 1529.0 739.6C1531.2 739.8 1533.4 740.5 1535.6 741.0C1537.8 741.4 1540.0 741.9 1542.2 742.2C1544.4 742.5 1546.6 742.9 1548.8 742.9C1551.0 742.9 1553.3 744.2 1555.6 742.0C1557.8 739.8 1559.9 734.1 1562.1 729.6C1564.3 725.1 1566.5 718.8 1568.7 715.0C1570.9 711.1 1573.2 708.8 1575.5 706.4C1577.7 704.1 1579.9 702.2 1582.0 700.8C1584.2 699.3 1586.4 697.9 1588.6 697.6C1590.8 697.3 1593.2 698.1 1595.4 699.0C1597.6 699.9 1599.8 699.9 1602.0 702.9C1604.1 705.9 1606.3 713.1 1608.5 717.1C1610.8 721.1 1613.1 724.2 1615.3 726.9C1617.5 729.6 1619.7 731.4 1621.9 733.5C1624.1 735.5 1626.2 737.3 1628.4 739.3C1630.7 741.3 1633.0 742.9 1635.2 745.6C1637.4 748.2 1639.6 753.0 1641.8 755.3C1644.0 757.6 1646.1 758.4 1648.4 759.4C1650.6 760.4 1652.9 760.8 1655.1 761.2C1657.3 761.6 1659.5 759.6 1661.7 761.9C1663.9 764.2 1666.0 770.8 1668.3 774.9C1670.5 779.0 1672.8 780.1 1675.0 786.4C1677.2 792.8 1679.4 805.0 1681.6 813.1C1683.8 821.3 1686.0 829.4 1688.2 835.3C1690.4 841.3 1692.7 843.5 1694.9 848.7C1697.2 853.9 1699.3 857.8 1701.5 866.4C1703.8 875.1 1706.8 892.3 1708.4 900.7C1710.0 909.0 1710.1 910.4 1711.1 916.7C1712.1 922.9 1712.9 931.8 1714.7 938.0C1716.4 944.2 1719.2 948.7 1721.4 954.0C1723.6 959.3 1725.8 965.3 1728.0 970.0C1730.2 974.7 1732.4 978.9 1734.6 982.4C1736.8 986.0 1739.1 987.8 1741.3 991.3C1743.6 994.9 1745.7 999.6 1747.9 1003.8C1750.1 1008.0 1752.3 1012.9 1754.5 1016.6C1756.7 1020.3 1759.0 1023.9 1761.2 1026.0C1763.5 1028.1 1765.6 1028.5 1767.8 1029.0C1770.0 1029.5 1772.2 1028.8 1774.4 1029.0C1776.6 1029.3 1778.9 1029.6 1781.2 1030.4C1783.4 1031.3 1785.5 1032.9 1787.7 1034.4C1789.9 1035.8 1792.1 1037.4 1794.3 1039.3C1796.5 1041.3 1798.8 1044.3 1801.1 1046.1C1803.3 1047.9 1805.5 1049.2 1807.6 1050.0C1809.8 1050.8 1812.5 1050.7 1814.2 1050.9C1815.9 1051.0 1817.2 1050.9 1817.8 1050.9" stroke="#4caf50" stroke-width="4.25" fill="none" stroke-linejoin="round" stroke-linecap="round"/>
<path d="M22.0 868.0C35.0 864.7 70.3 855.3 100.0 848.0C129.7 840.7 173.3 830.5 200.0 824.0C226.7 817.5 240.7 814.1 260.0 809.2C279.3 804.3 296.0 800.8 316.0 794.8C336.0 788.8 356.0 781.2 380.0 773.2C404.0 765.2 436.7 753.7 460.0 746.8C483.3 739.9 500.0 737.6 520.0 732.0C540.0 726.4 563.3 717.9 580.0 713.2C596.7 708.5 604.7 707.1 620.0 704.0C635.3 700.9 653.3 698.3 672.0 694.8C690.7 691.3 710.7 687.3 732.0 682.8C753.3 678.3 778.7 672.1 800.0 668.0C821.3 663.9 843.3 661.4 860.0 658.0C876.7 654.6 886.3 651.0 900.0 647.6C913.7 644.2 928.1 640.0 942.2 637.4C956.3 634.8 968.3 633.9 984.5 631.9C1000.7 629.9 1021.8 627.5 1039.4 625.6C1057.0 623.7 1071.0 621.8 1090.0 620.5C1109.0 619.2 1135.8 618.0 1153.4 618.0C1171.0 618.0 1181.5 619.2 1195.6 620.5C1209.7 621.8 1223.7 623.9 1237.8 625.6C1251.9 627.3 1265.9 629.2 1280.0 630.7C1294.1 632.2 1308.2 633.3 1322.3 634.9C1336.4 636.5 1350.4 638.6 1364.5 640.4C1378.6 642.2 1392.7 644.1 1406.8 645.9C1420.9 647.6 1434.9 649.5 1449.0 650.9C1463.1 652.3 1477.1 653.4 1491.2 654.3C1505.3 655.1 1519.3 655.6 1533.4 656.0C1547.5 656.4 1561.6 656.0 1575.7 656.4C1589.8 656.8 1603.8 657.3 1617.9 658.5C1632.0 659.7 1646.0 661.2 1660.1 663.6C1674.2 666.0 1688.3 669.2 1702.4 672.9C1716.5 676.6 1730.5 681.5 1744.6 685.6C1758.7 689.7 1774.1 694.0 1786.8 697.4C1799.5 700.8 1815.0 704.4 1820.6 705.8" stroke="#2962ff" stroke-width="6.4" fill="none" stroke-linejoin="round" stroke-linecap="round"/>
<path d="M23 476.0V498.2M57 548.9V574.7M63 536.4V564.0M70 535.6V566.7M96 544.4V601.7M103 538.2V564.0M110 531.1V548.9M116 475.1V545.3M123 477.2V504.4M143 534.3V578.6M156 534.3V555.1M163 497.0V550.7M176 543.6V570.2M209 535.4V621.6M216 532.0V552.4M222 507.1V537.7M236 512.4V530.2M242 515.1V523.6M249 503.0V519.6M269 485.2V547.5M275 474.2V501.8M289 503.0V510.7M295 487.0V510.7M309 492.9V516.5M315 456.4V504.4M322 395.1V475.1M328 370.2V422.7M342 364.0V394.8M348 319.2V367.2M362 347.1V387.5M368 335.2V382.7M395 351.9V393.3M401 342.9V398.9M428 369.9V385.9M435 350.0V377.6M481 414.4V455.8M488 404.2V426.8M501 404.2V435.7M508 378.1V423.8M527 358.5V402.4M541 344.3V371.0M547 305.9V362.4M567 372.2V382.9M594 419.0V449.9M607 382.0V459.9M634 449.9V499.0M647 435.3V469.5M660 495.8V516.8M673 484.2V518.9M680 458.1V503.8M687 446.9V475.9M713 460.6V479.8M720 443.3V473.6M733 424.3V469.5M740 406.5V435.7M746 390.0V416.7M766 390.0V421.5M773 387.3V416.7M786 375.3V399.0M799 397.2V405.6M826 426.9V466.9M839 476.1V498.9M846 484.3V492.7M852 449.1V491.8M859 422.1V459.8M872 365.2V428.7M879 333.2V368.8M886 296.2V357.6M899 281.1V324.7M905 268.1V309.6M919 290.0V331.8M945 393.1V467.8M952 397.2V429.6M985 514.3V530.7M992 487.1V533.3M998 459.2V515.6M1018 464.5V515.6M1025 453.9V485.3M1031 456.4V472.9M1038 411.4V465.5M1071 467.0V504.4M1078 476.4V491.6M1084 468.1V489.8M1104 556.4V631.6M1118 563.0V628.8M1131 545.2V599.6M1137 528.0V560.9M1171 663.1V693.3M1191 703.1V765.9M1224 776.9V825.8M1230 764.4V818.7M1244 745.2V802.7M1250 727.1V752.4M1283 722.1V805.7M1290 697.2V739.6M1310 752.0V764.4M1317 732.4V780.4M1323 723.2V758.8M1330 676.4V758.8M1343 705.4V761.8M1376 780.1V816.9M1396 763.0V819.9M1403 774.8V787.6M1409 767.1V785.8M1429 781.3V799.6M1443 762.3V798.6M1449 783.1V791.1M1469 764.4V797.9M1482 771.3V787.9M1489 742.4V776.1M1496 744.7V761.9M1502 730.4V744.7M1509 685.5V733.1M1549 738.4V751.8M1555 722.4V752.7M1562 666.4V739.3M1569 647.4V690.8M1615 747.3V791.4M1628 739.9V774.4M1648 771.3V801.6M1655 761.6V791.8M1661 747.3V770.4M1695 900.3V963.8M1721 1002.0V1160.6M1734 995.2V1040.8M1767 1034.4V1081.6M1774 1016.2V1042.9M1787 1024.2V1062.8M1807 1063.3V1084.7M1814 1049.1V1074.9M1821 1042.0V1058.9" stroke="#26a69a" stroke-width="2" fill="none"/>
<path d="M20 490.2h6V495.6h-6zM54 553.3h6V564.0h-6zM60 540.0h6V553.9h-6zM67 536.4h6V539.1h-6zM93 559.0h6V596.9h-6zM100 541.8h6V558.7h-6zM107 539.1h6V542.7h-6zM113 478.7h6V540.9h-6zM120 477.8h6V479.8h-6zM140 535.0h6V539.1h-6zM153 541.8h6V543.8h-6zM160 526.1h6V542.7h-6zM173 552.1h6V556.9h-6zM206 544.3h6V604.7h-6zM213 535.0h6V544.4h-6zM219 518.3h6V535.0h-6zM233 520.1h6V522.1h-6zM239 518.7h6V521.9h-6zM246 505.3h6V518.7h-6zM266 498.2h6V540.4h-6zM272 487.0h6V498.8h-6zM286 505.3h6V508.9h-6zM292 493.4h6V506.2h-6zM306 497.0h6V507.1h-6zM312 465.0h6V497.0h-6zM319 412.0h6V465.3h-6zM325 389.2h6V412.4h-6zM339 364.9h6V392.8h-6zM345 350.1h6V365.8h-6zM359 365.4h6V378.6h-6zM365 359.2h6V365.4h-6zM392 382.1h6V385.3h-6zM398 346.4h6V382.9h-6zM425 374.9h6V380.6h-6zM432 354.4h6V376.7h-6zM478 424.3h6V447.4h-6zM485 412.2h6V425.6h-6zM498 413.6h6V426.8h-6zM505 380.6h6V414.4h-6zM524 358.9h6V401.6h-6zM538 346.1h6V365.1h-6zM544 308.8h6V346.8h-6zM564 377.6h6V379.9h-6zM591 424.3h6V443.9h-6zM604 398.9h6V449.9h-6zM631 458.1h6V480.7h-6zM644 446.4h6V465.6h-6zM657 496.7h6V504.3h-6zM670 491.9h6V506.8h-6zM677 466.4h6V492.2h-6zM684 458.1h6V467.0h-6zM710 467.0h6V479.8h-6zM717 454.5h6V467.7h-6zM730 429.1h6V462.9h-6zM737 406.9h6V429.6h-6zM743 401.2h6V407.2h-6zM763 407.8h6V410.4h-6zM770 389.1h6V409.6h-6zM783 386.0h6V395.8h-6zM796 402.0h6V404.7h-6zM823 435.8h6V454.8h-6zM836 485.0h6V496.2h-6zM843 484.7h6V486.7h-6zM849 451.8h6V485.6h-6zM856 422.8h6V451.8h-6zM869 365.6h6V427.8h-6zM876 339.8h6V366.4h-6zM883 317.9h6V340.7h-6zM896 306.0h6V318.4h-6zM902 287.0h6V306.9h-6zM916 301.2h6V328.6h-6zM942 410.9h6V450.0h-6zM949 409.1h6V411.1h-6zM982 519.1h6V529.8h-6zM989 499.0h6V519.6h-6zM995 475.2h6V499.6h-6zM1015 481.2h6V515.6h-6zM1022 468.4h6V481.8h-6zM1028 459.9h6V468.8h-6zM1035 421.0h6V461.2h-6zM1068 488.9h6V504.4h-6zM1075 483.6h6V489.8h-6zM1081 475.9h6V484.1h-6zM1101 565.3h6V598.6h-6zM1115 574.2h6V601.4h-6zM1128 554.7h6V588.4h-6zM1134 536.9h6V554.7h-6zM1168 678.2h6V693.3h-6zM1188 715.0h6V727.5h-6zM1221 797.3h6V825.2h-6zM1227 776.9h6V797.3h-6zM1241 747.0h6V790.8h-6zM1247 735.1h6V747.6h-6zM1280 736.0h6V805.0h-6zM1287 707.2h6V736.9h-6zM1307 762.7h6V764.7h-6zM1314 748.8h6V763.6h-6zM1320 745.2h6V748.8h-6zM1327 717.3h6V746.7h-6zM1340 720.4h6V726.8h-6zM1373 783.1h6V803.2h-6zM1393 778.3h6V816.0h-6zM1400 776.5h6V780.4h-6zM1406 774.2h6V776.5h-6zM1426 783.6h6V785.6h-6zM1440 790.2h6V794.7h-6zM1446 783.6h6V790.8h-6zM1466 775.1h6V792.9h-6zM1479 771.3h6V787.3h-6zM1486 755.3h6V772.2h-6zM1493 745.2h6V755.3h-6zM1499 732.8h6V743.8h-6zM1506 701.1h6V732.8h-6zM1546 742.0h6V748.8h-6zM1552 738.1h6V742.4h-6zM1559 681.2h6V738.8h-6zM1566 658.1h6V681.6h-6zM1612 761.9h6V775.8h-6zM1625 760.7h6V762.7h-6zM1645 777.2h6V801.0h-6zM1652 766.0h6V777.6h-6zM1658 764.2h6V766.2h-6zM1692 907.8h6V931.8h-6zM1718 1018.4h6V1123.8h-6zM1731 1021.9h6V1035.8h-6zM1764 1042.0h6V1077.6h-6zM1771 1029.0h6V1042.5h-6zM1784 1040.2h6V1042.2h-6zM1804 1066.9h6V1074.9h-6zM1811 1051.4h6V1067.8h-6zM1818 1047.9h6V1053.9h-6z" fill="#26a69a"/>
<path d="M30 472.1V514.2M37 492.0V524.9M43 497.0V543.6M50 531.1V567.6M76 524.4V550.7M83 536.4V559.6M90 536.4V611.5M130 476.9V508.9M136 498.2V540.0M149 532.9V558.7M169 513.3V571.5M183 547.1V564.9M189 530.6V584.8M196 563.1V604.4M202 571.5V639.6M229 504.1V527.6M256 499.1V525.4M262 516.5V545.7M282 484.9V517.2M302 486.3V514.8M335 380.0V399.6M355 348.9V404.9M375 336.1V388.9M382 367.9V383.6M388 364.0V397.4M408 343.8V382.9M415 351.8V384.7M421 366.9V417.2M441 350.0V382.0M448 356.8V387.7M454 364.2V403.7M461 362.1V406.0M468 397.6V443.3M474 425.0V454.0M494 411.3V446.0M514 378.1V401.6M521 380.2V403.0M534 317.1V372.8M554 296.3V380.2M561 355.3V388.8M574 363.0V383.8M580 378.4V417.6M587 390.0V445.1M600 417.2V454.9M614 397.6V429.1M620 414.9V477.6M627 433.2V491.9M640 446.4V478.0M653 446.0V516.2M667 489.0V508.2M693 451.7V490.8M700 435.3V477.6M706 464.1V481.9M726 438.0V471.8M753 398.0V416.7M760 400.1V415.8M779 382.9V417.6M793 381.2V411.8M806 401.1V410.9M813 407.9V454.8M819 435.8V460.7M832 434.0V499.8M866 417.1V444.7M892 310.1V331.8M912 277.0V337.5M925 295.3V349.6M932 312.2V515.2M939 416.8V470.1M958 407.9V482.0M965 432.2V478.4M972 454.6V515.6M978 492.4V568.9M1005 428.7V516.7M1012 493.3V529.8M1045 396.1V441.1M1051 399.0V447.3M1058 432.0V490.7M1065 459.9V531.6M1091 472.9V544.9M1098 520.4V634.7M1111 560.5V613.9M1124 573.0V598.6M1144 518.2V584.9M1151 545.2V606.8M1157 563.0V645.9M1164 620.4V699.6M1177 664.5V715.6M1184 674.1V738.7M1197 714.3V774.8M1204 712.0V807.5M1210 789.0V882.7M1217 814.2V841.8M1237 774.2V806.8M1257 711.1V749.3M1263 737.4V748.8M1270 725.3V749.3M1277 748.1V838.8M1297 632.0V739.6M1303 718.2V777.8M1336 693.3V732.4M1350 718.2V758.8M1356 746.3V754.7M1363 748.8V784.0M1370 754.7V816.9M1383 754.7V816.9M1389 764.1V828.8M1416 748.1V780.4M1423 770.1V797.9M1436 774.2V796.1M1456 782.2V787.9M1462 751.1V798.6M1476 766.2V808.0M1515 692.2V735.8M1522 702.9V744.7M1529 732.8V763.7M1535 727.4V763.0M1542 744.7V749.1M1575 657.0V683.7M1582 674.1V695.8M1588 676.2V685.1M1595 673.0V706.1M1602 703.8V726.9M1608 716.8V782.5M1622 750.5V773.6M1635 756.6V766.9M1641 765.1V807.4M1668 764.8V844.8M1675 827.0V878.9M1681 834.1V947.9M1688 899.2V947.8M1701 902.1V986.0M1708 932.3V1002.0M1714 982.8V1130.9M1728 1002.9V1062.1M1741 1007.0V1048.6M1748 1019.4V1053.9M1754 1036.1V1082.9M1761 1047.9V1091.8M1781 1013.0V1051.8M1794 1036.1V1071.7M1801 1047.3V1082.0" stroke="#ef5350" stroke-width="2" fill="none"/>
<path d="M27 490.2h6V497.0h-6zM34 495.6h6V512.4h-6zM40 511.6h6V542.7h-6zM47 540.9h6V564.0h-6zM73 537.3h6V548.0h-6zM80 544.4h6V555.1h-6zM87 552.8h6V596.9h-6zM127 478.7h6V500.9h-6zM133 500.0h6V539.1h-6zM146 535.6h6V544.4h-6zM166 526.1h6V557.8h-6zM180 552.4h6V555.5h-6zM186 554.6h6V573.2h-6zM193 572.0h6V588.0h-6zM199 587.5h6V605.8h-6zM226 518.3h6V523.6h-6zM253 505.3h6V521.3h-6zM259 521.3h6V540.4h-6zM279 486.7h6V508.9h-6zM299 493.4h6V507.1h-6zM332 389.2h6V392.4h-6zM352 349.8h6V378.6h-6zM372 357.8h6V375.0h-6zM379 374.3h6V376.3h-6zM385 376.1h6V385.0h-6zM405 346.8h6V363.3h-6zM412 362.8h6V368.7h-6zM418 367.8h6V380.6h-6zM438 353.9h6V374.0h-6zM445 371.3h6V373.3h-6zM451 373.1h6V377.6h-6zM458 375.8h6V404.2h-6zM465 403.7h6V438.0h-6zM471 437.1h6V447.4h-6zM491 412.2h6V426.8h-6zM511 379.9h6V395.3h-6zM518 394.4h6V401.6h-6zM531 359.8h6V365.1h-6zM551 309.1h6V368.7h-6zM558 367.8h6V382.9h-6zM571 378.1h6V381.6h-6zM577 380.6h6V397.6h-6zM584 396.6h6V443.9h-6zM597 424.3h6V449.9h-6zM611 398.9h6V419.3h-6zM617 419.0h6V437.5h-6zM624 436.8h6V480.7h-6zM637 458.1h6V465.6h-6zM650 446.4h6V505.0h-6zM664 496.7h6V507.3h-6zM690 458.8h6V472.3h-6zM697 470.9h6V472.9h-6zM703 472.3h6V479.8h-6zM723 454.5h6V462.4h-6zM750 401.2h6V406.5h-6zM757 406.0h6V410.4h-6zM776 389.1h6V395.9h-6zM790 386.0h6V404.7h-6zM803 403.2h6V410.0h-6zM810 410.0h6V444.7h-6zM816 445.2h6V454.8h-6zM829 435.2h6V496.2h-6zM863 423.3h6V428.1h-6zM889 317.2h6V319.2h-6zM909 287.0h6V328.6h-6zM922 301.6h6V324.7h-6zM929 324.3h6V420.7h-6zM936 420.7h6V450.0h-6zM955 409.6h6V440.6h-6zM962 439.9h6V471.9h-6zM969 472.0h6V507.2h-6zM975 506.1h6V529.8h-6zM1002 474.9h6V506.9h-6zM1009 505.4h6V515.6h-6zM1042 421.0h6V427.8h-6zM1048 426.9h6V443.8h-6zM1055 441.8h6V483.0h-6zM1062 482.3h6V506.1h-6zM1088 475.9h6V530.7h-6zM1095 530.3h6V598.6h-6zM1108 565.3h6V600.9h-6zM1121 573.7h6V589.0h-6zM1141 536.9h6V577.8h-6zM1148 576.9h6V596.1h-6zM1154 596.1h6V624.0h-6zM1161 623.1h6V693.9h-6zM1174 678.2h6V698.3h-6zM1181 697.8h6V727.5h-6zM1194 715.0h6V734.6h-6zM1201 734.2h6V801.8h-6zM1207 800.9h6V820.4h-6zM1214 819.9h6V825.2h-6zM1234 776.9h6V790.8h-6zM1254 735.1h6V741.7h-6zM1260 740.4h6V742.4h-6zM1267 741.3h6V748.8h-6zM1274 748.4h6V804.4h-6zM1294 707.2h6V723.2h-6zM1300 722.7h6V764.1h-6zM1333 720.4h6V731.0h-6zM1347 720.0h6V748.8h-6zM1353 748.1h6V752.4h-6zM1360 749.3h6V778.7h-6zM1367 776.0h6V802.7h-6zM1380 786.7h6V808.9h-6zM1386 806.2h6V816.9h-6zM1413 771.6h6V775.5h-6zM1420 774.2h6V792.9h-6zM1433 785.8h6V792.9h-6zM1453 784.4h6V786.4h-6zM1459 780.4h6V792.9h-6zM1473 775.1h6V787.6h-6zM1512 700.2h6V702.2h-6zM1519 703.2h6V737.0h-6zM1526 737.6h6V740.2h-6zM1532 739.3h6V747.0h-6zM1539 746.4h6V748.4h-6zM1572 659.9h6V680.1h-6zM1579 676.6h6V678.6h-6zM1585 678.9h6V684.8h-6zM1592 681.9h6V705.6h-6zM1599 704.3h6V721.6h-6zM1605 719.8h6V777.2h-6zM1619 760.7h6V762.7h-6zM1632 760.7h6V766.5h-6zM1638 765.5h6V802.1h-6zM1665 765.1h6V827.7h-6zM1672 827.0h6V833.6h-6zM1678 834.1h6V910.0h-6zM1685 906.9h6V931.2h-6zM1698 907.4h6V950.1h-6zM1705 949.6h6V985.1h-6zM1711 985.1h6V1125.0h-6zM1725 1018.0h6V1035.8h-6zM1738 1021.2h6V1024.8h-6zM1745 1023.0h6V1042.5h-6zM1751 1042.0h6V1066.9h-6zM1758 1066.4h6V1077.6h-6zM1778 1029.0h6V1042.5h-6zM1791 1041.1h6V1060.7h-6zM1798 1060.3h6V1074.9h-6z" fill="#ef5350"/>
<path d="M22 1048H2039" stroke="#26a69a" stroke-width="2" stroke-dasharray="2 4" fill="none"/>
</g>
<g clip-path="url(#cr)">
<g clip-path="url(#lo)"><path d="M22.6 1280.0L29.4 1282.4L36.0 1289.0L42.6 1300.0L50.0 1309.6L56.0 1306.4L62.6 1302.0L69.4 1301.0L76.0 1304.0L83.6 1307.6L90.0 1323.0L96.6 1309.6L103.4 1303.6L110.0 1302.4L116.6 1287.0L123.4 1288.0L130.0 1295.0L136.6 1308.4L143.0 1307.0L150.0 1310.0L156.0 1309.6L162.6 1303.6L169.4 1315.0L176.0 1313.0L182.6 1314.4L189.4 1320.0L196.0 1325.6L202.4 1330.4L209.0 1307.6L216.0 1304.0L222.4 1298.6L229.0 1301.6L235.6 1300.6L242.0 1299.6L248.6 1294.4L255.4 1302.0L261.6 1310.0L268.6 1295.6L275.0 1292.4L281.6 1301.6L288.0 1300.4L295.0 1296.0L301.6 1302.4L308.0 1299.0L315.0 1288.4L321.4 1276.0L328.0 1271.0L334.6 1273.0L341.4 1268.0L347.4 1265.4L354.0 1279.0L360.6 1276.6L367.4 1274.6L374.0 1283.0L380.6 1283.6L387.4 1287.4L394.0 1286.6L400.6 1277.6L407.4 1285.6L414.0 1288.4L420.6 1294.0L428.0 1292.6L435.0 1285.6L442.0 1295.0L448.6 1296.0L455.4 1297.0L462.0 1310.0L468.0 1323.0L475.0 1327.0L481.6 1316.0L488.0 1311.6L495.0 1316.4L501.6 1311.0L508.0 1298.4L515.0 1304.0L521.4 1307.6L528.0 1292.6L534.6 1295.0L541.4 1288.0L547.6 1280.0L554.4 1303.0L561.4 1307.0L568.0 1306.6L574.0 1307.4L581.0 1313.4L587.6 1327.0L594.0 1319.6L600.6 1326.4L607.4 1309.6L614.0 1315.4L620.6 1320.4L627.4 1330.4L634.0 1323.0L640.6 1325.0L647.0 1319.0L653.6 1332.0L660.0 1329.6L666.6 1331.6L673.4 1326.4L680.0 1318.0L686.6 1315.0L693.4 1319.0L700.0 1319.4L706.6 1321.4L713.0 1316.4L719.4 1311.4L726.0 1314.4L732.6 1302.0L739.4 1295.6L746.0 1293.6L752.6 1296.0L759.4 1298.0L766.0 1297.4L772.6 1290.0L779.0 1293.4L785.4 1289.6L792.0 1300.0L798.6 1299.0L805.0 1303.0L812.0 1319.0L818.6 1323.4L825.4 1314.0L831.6 1334.0L838.6 1329.6L845.0 1329.4L851.6 1314.4L858.0 1303.6L866.6 1305.6L873.0 1287.6L880.0 1282.0L886.6 1278.0L893.4 1278.0L900.0 1274.6L906.0 1271.0L913.0 1289.4L919.4 1283.0L926.0 1292.0L932.4 1318.4L939.0 1325.0L946.0 1315.0L952.4 1314.6L959.0 1321.0L965.6 1327.6L972.0 1333.6L979.0 1338.0L985.6 1334.4L992.0 1328.4L998.4 1321.0L1005.0 1327.4L1011.6 1329.6L1018.6 1319.0L1025.0 1315.6L1031.4 1313.6L1038.0 1302.6L1044.6 1304.0L1051.4 1308.6L1058.0 1319.0L1064.6 1325.0L1071.4 1320.0L1078.0 1317.6L1084.4 1315.4L1091.0 1328.6L1097.6 1341.6L1104.0 1331.0L1110.4 1337.4L1117.4 1329.0L1124.0 1331.6L1130.6 1323.0L1137.0 1317.6L1143.6 1325.6L1150.0 1329.0L1157.0 1334.6L1164.0 1344.6L1170.0 1340.0L1176.6 1342.6L1183.4 1347.0L1190.0 1342.6L1196.6 1344.6L1203.4 1353.6L1210.0 1356.0L1216.4 1356.4L1223.0 1347.0L1229.6 1339.6L1236.0 1342.0L1243.0 1328.0L1249.6 1325.0L1256.0 1326.0L1263.0 1326.4L1269.0 1328.0L1276.0 1339.0L1282.6 1318.0L1289.0 1310.6L1297.4 1314.0L1304.4 1323.4L1310.6 1323.6L1317.4 1319.4L1324.0 1317.6L1330.6 1310.0L1337.4 1313.0L1343.8 1310.4L1350.4 1318.9L1357.1 1319.3L1363.8 1326.7L1370.4 1332.2L1376.7 1325.1L1383.8 1331.1L1390.0 1332.9L1397.1 1319.3L1403.8 1318.4L1410.4 1318.0L1416.7 1317.3L1422.9 1323.3L1429.6 1320.7L1436.2 1322.9L1442.9 1322.2L1449.6 1318.4L1456.2 1319.6L1462.9 1322.2L1469.6 1313.3L1476.2 1318.9L1482.9 1311.1L1489.6 1303.3L1496.2 1299.3L1502.2 1294.4L1508.9 1283.3L1515.6 1284.4L1522.2 1301.8L1528.9 1304.0L1535.6 1307.1L1541.6 1308.2L1548.2 1305.1L1554.9 1302.7L1561.6 1282.2L1568.2 1275.6L1574.9 1286.7L1581.6 1287.1L1588.2 1289.6L1594.9 1300.4L1601.6 1307.8L1608.2 1327.8L1614.9 1321.6L1621.6 1321.1L1628.2 1321.1L1634.4 1322.7L1641.1 1334.4L1647.8 1322.7L1654.0 1318.2L1660.7 1317.3L1667.3 1336.0L1674.0 1337.8L1680.7 1351.8L1687.3 1356.0L1694.0 1345.6L1700.7 1351.8L1707.3 1356.7L1713.3 1368.9L1720.4 1339.3L1727.1 1341.1L1733.8 1338.4L1740.4 1338.2L1747.1 1340.0L1753.8 1343.3L1761.1 1345.6L1767.8 1335.1L1774.9 1331.6L1781.6 1334.0L1788.2 1333.3L1794.9 1336.7L1801.1 1339.3L1807.8 1336.7L1814.4 1331.6L1821.1 1329.6L1821.1 1344L22.6 1344z" fill="url(#os)"/></g>
<g clip-path="url(#hi)"><path d="M22.6 1280.0L29.4 1282.4L36.0 1289.0L42.6 1300.0L50.0 1309.6L56.0 1306.4L62.6 1302.0L69.4 1301.0L76.0 1304.0L83.6 1307.6L90.0 1323.0L96.6 1309.6L103.4 1303.6L110.0 1302.4L116.6 1287.0L123.4 1288.0L130.0 1295.0L136.6 1308.4L143.0 1307.0L150.0 1310.0L156.0 1309.6L162.6 1303.6L169.4 1315.0L176.0 1313.0L182.6 1314.4L189.4 1320.0L196.0 1325.6L202.4 1330.4L209.0 1307.6L216.0 1304.0L222.4 1298.6L229.0 1301.6L235.6 1300.6L242.0 1299.6L248.6 1294.4L255.4 1302.0L261.6 1310.0L268.6 1295.6L275.0 1292.4L281.6 1301.6L288.0 1300.4L295.0 1296.0L301.6 1302.4L308.0 1299.0L315.0 1288.4L321.4 1276.0L328.0 1271.0L334.6 1273.0L341.4 1268.0L347.4 1265.4L354.0 1279.0L360.6 1276.6L367.4 1274.6L374.0 1283.0L380.6 1283.6L387.4 1287.4L394.0 1286.6L400.6 1277.6L407.4 1285.6L414.0 1288.4L420.6 1294.0L428.0 1292.6L435.0 1285.6L442.0 1295.0L448.6 1296.0L455.4 1297.0L462.0 1310.0L468.0 1323.0L475.0 1327.0L481.6 1316.0L488.0 1311.6L495.0 1316.4L501.6 1311.0L508.0 1298.4L515.0 1304.0L521.4 1307.6L528.0 1292.6L534.6 1295.0L541.4 1288.0L547.6 1280.0L554.4 1303.0L561.4 1307.0L568.0 1306.6L574.0 1307.4L581.0 1313.4L587.6 1327.0L594.0 1319.6L600.6 1326.4L607.4 1309.6L614.0 1315.4L620.6 1320.4L627.4 1330.4L634.0 1323.0L640.6 1325.0L647.0 1319.0L653.6 1332.0L660.0 1329.6L666.6 1331.6L673.4 1326.4L680.0 1318.0L686.6 1315.0L693.4 1319.0L700.0 1319.4L706.6 1321.4L713.0 1316.4L719.4 1311.4L726.0 1314.4L732.6 1302.0L739.4 1295.6L746.0 1293.6L752.6 1296.0L759.4 1298.0L766.0 1297.4L772.6 1290.0L779.0 1293.4L785.4 1289.6L792.0 1300.0L798.6 1299.0L805.0 1303.0L812.0 1319.0L818.6 1323.4L825.4 1314.0L831.6 1334.0L838.6 1329.6L845.0 1329.4L851.6 1314.4L858.0 1303.6L866.6 1305.6L873.0 1287.6L880.0 1282.0L886.6 1278.0L893.4 1278.0L900.0 1274.6L906.0 1271.0L913.0 1289.4L919.4 1283.0L926.0 1292.0L932.4 1318.4L939.0 1325.0L946.0 1315.0L952.4 1314.6L959.0 1321.0L965.6 1327.6L972.0 1333.6L979.0 1338.0L985.6 1334.4L992.0 1328.4L998.4 1321.0L1005.0 1327.4L1011.6 1329.6L1018.6 1319.0L1025.0 1315.6L1031.4 1313.6L1038.0 1302.6L1044.6 1304.0L1051.4 1308.6L1058.0 1319.0L1064.6 1325.0L1071.4 1320.0L1078.0 1317.6L1084.4 1315.4L1091.0 1328.6L1097.6 1341.6L1104.0 1331.0L1110.4 1337.4L1117.4 1329.0L1124.0 1331.6L1130.6 1323.0L1137.0 1317.6L1143.6 1325.6L1150.0 1329.0L1157.0 1334.6L1164.0 1344.6L1170.0 1340.0L1176.6 1342.6L1183.4 1347.0L1190.0 1342.6L1196.6 1344.6L1203.4 1353.6L1210.0 1356.0L1216.4 1356.4L1223.0 1347.0L1229.6 1339.6L1236.0 1342.0L1243.0 1328.0L1249.6 1325.0L1256.0 1326.0L1263.0 1326.4L1269.0 1328.0L1276.0 1339.0L1282.6 1318.0L1289.0 1310.6L1297.4 1314.0L1304.4 1323.4L1310.6 1323.6L1317.4 1319.4L1324.0 1317.6L1330.6 1310.0L1337.4 1313.0L1343.8 1310.4L1350.4 1318.9L1357.1 1319.3L1363.8 1326.7L1370.4 1332.2L1376.7 1325.1L1383.8 1331.1L1390.0 1332.9L1397.1 1319.3L1403.8 1318.4L1410.4 1318.0L1416.7 1317.3L1422.9 1323.3L1429.6 1320.7L1436.2 1322.9L1442.9 1322.2L1449.6 1318.4L1456.2 1319.6L1462.9 1322.2L1469.6 1313.3L1476.2 1318.9L1482.9 1311.1L1489.6 1303.3L1496.2 1299.3L1502.2 1294.4L1508.9 1283.3L1515.6 1284.4L1522.2 1301.8L1528.9 1304.0L1535.6 1307.1L1541.6 1308.2L1548.2 1305.1L1554.9 1302.7L1561.6 1282.2L1568.2 1275.6L1574.9 1286.7L1581.6 1287.1L1588.2 1289.6L1594.9 1300.4L1601.6 1307.8L1608.2 1327.8L1614.9 1321.6L1621.6 1321.1L1628.2 1321.1L1634.4 1322.7L1641.1 1334.4L1647.8 1322.7L1654.0 1318.2L1660.7 1317.3L1667.3 1336.0L1674.0 1337.8L1680.7 1351.8L1687.3 1356.0L1694.0 1345.6L1700.7 1351.8L1707.3 1356.7L1713.3 1368.9L1720.4 1339.3L1727.1 1341.1L1733.8 1338.4L1740.4 1338.2L1747.1 1340.0L1753.8 1343.3L1761.1 1345.6L1767.8 1335.1L1774.9 1331.6L1781.6 1334.0L1788.2 1333.3L1794.9 1336.7L1801.1 1339.3L1807.8 1336.7L1814.4 1331.6L1821.1 1329.6L1821.1 1276L22.6 1276z" fill="url(#ob)"/></g>
<path d="M22.6 1280.0L29.4 1282.4L36.0 1289.0L42.6 1300.0L50.0 1309.6L56.0 1306.4L62.6 1302.0L69.4 1301.0L76.0 1304.0L83.6 1307.6L90.0 1323.0L96.6 1309.6L103.4 1303.6L110.0 1302.4L116.6 1287.0L123.4 1288.0L130.0 1295.0L136.6 1308.4L143.0 1307.0L150.0 1310.0L156.0 1309.6L162.6 1303.6L169.4 1315.0L176.0 1313.0L182.6 1314.4L189.4 1320.0L196.0 1325.6L202.4 1330.4L209.0 1307.6L216.0 1304.0L222.4 1298.6L229.0 1301.6L235.6 1300.6L242.0 1299.6L248.6 1294.4L255.4 1302.0L261.6 1310.0L268.6 1295.6L275.0 1292.4L281.6 1301.6L288.0 1300.4L295.0 1296.0L301.6 1302.4L308.0 1299.0L315.0 1288.4L321.4 1276.0L328.0 1271.0L334.6 1273.0L341.4 1268.0L347.4 1265.4L354.0 1279.0L360.6 1276.6L367.4 1274.6L374.0 1283.0L380.6 1283.6L387.4 1287.4L394.0 1286.6L400.6 1277.6L407.4 1285.6L414.0 1288.4L420.6 1294.0L428.0 1292.6L435.0 1285.6L442.0 1295.0L448.6 1296.0L455.4 1297.0L462.0 1310.0L468.0 1323.0L475.0 1327.0L481.6 1316.0L488.0 1311.6L495.0 1316.4L501.6 1311.0L508.0 1298.4L515.0 1304.0L521.4 1307.6L528.0 1292.6L534.6 1295.0L541.4 1288.0L547.6 1280.0L554.4 1303.0L561.4 1307.0L568.0 1306.6L574.0 1307.4L581.0 1313.4L587.6 1327.0L594.0 1319.6L600.6 1326.4L607.4 1309.6L614.0 1315.4L620.6 1320.4L627.4 1330.4L634.0 1323.0L640.6 1325.0L647.0 1319.0L653.6 1332.0L660.0 1329.6L666.6 1331.6L673.4 1326.4L680.0 1318.0L686.6 1315.0L693.4 1319.0L700.0 1319.4L706.6 1321.4L713.0 1316.4L719.4 1311.4L726.0 1314.4L732.6 1302.0L739.4 1295.6L746.0 1293.6L752.6 1296.0L759.4 1298.0L766.0 1297.4L772.6 1290.0L779.0 1293.4L785.4 1289.6L792.0 1300.0L798.6 1299.0L805.0 1303.0L812.0 1319.0L818.6 1323.4L825.4 1314.0L831.6 1334.0L838.6 1329.6L845.0 1329.4L851.6 1314.4L858.0 1303.6L866.6 1305.6L873.0 1287.6L880.0 1282.0L886.6 1278.0L893.4 1278.0L900.0 1274.6L906.0 1271.0L913.0 1289.4L919.4 1283.0L926.0 1292.0L932.4 1318.4L939.0 1325.0L946.0 1315.0L952.4 1314.6L959.0 1321.0L965.6 1327.6L972.0 1333.6L979.0 1338.0L985.6 1334.4L992.0 1328.4L998.4 1321.0L1005.0 1327.4L1011.6 1329.6L1018.6 1319.0L1025.0 1315.6L1031.4 1313.6L1038.0 1302.6L1044.6 1304.0L1051.4 1308.6L1058.0 1319.0L1064.6 1325.0L1071.4 1320.0L1078.0 1317.6L1084.4 1315.4L1091.0 1328.6L1097.6 1341.6L1104.0 1331.0L1110.4 1337.4L1117.4 1329.0L1124.0 1331.6L1130.6 1323.0L1137.0 1317.6L1143.6 1325.6L1150.0 1329.0L1157.0 1334.6L1164.0 1344.6L1170.0 1340.0L1176.6 1342.6L1183.4 1347.0L1190.0 1342.6L1196.6 1344.6L1203.4 1353.6L1210.0 1356.0L1216.4 1356.4L1223.0 1347.0L1229.6 1339.6L1236.0 1342.0L1243.0 1328.0L1249.6 1325.0L1256.0 1326.0L1263.0 1326.4L1269.0 1328.0L1276.0 1339.0L1282.6 1318.0L1289.0 1310.6L1297.4 1314.0L1304.4 1323.4L1310.6 1323.6L1317.4 1319.4L1324.0 1317.6L1330.6 1310.0L1337.4 1313.0L1343.8 1310.4L1350.4 1318.9L1357.1 1319.3L1363.8 1326.7L1370.4 1332.2L1376.7 1325.1L1383.8 1331.1L1390.0 1332.9L1397.1 1319.3L1403.8 1318.4L1410.4 1318.0L1416.7 1317.3L1422.9 1323.3L1429.6 1320.7L1436.2 1322.9L1442.9 1322.2L1449.6 1318.4L1456.2 1319.6L1462.9 1322.2L1469.6 1313.3L1476.2 1318.9L1482.9 1311.1L1489.6 1303.3L1496.2 1299.3L1502.2 1294.4L1508.9 1283.3L1515.6 1284.4L1522.2 1301.8L1528.9 1304.0L1535.6 1307.1L1541.6 1308.2L1548.2 1305.1L1554.9 1302.7L1561.6 1282.2L1568.2 1275.6L1574.9 1286.7L1581.6 1287.1L1588.2 1289.6L1594.9 1300.4L1601.6 1307.8L1608.2 1327.8L1614.9 1321.6L1621.6 1321.1L1628.2 1321.1L1634.4 1322.7L1641.1 1334.4L1647.8 1322.7L1654.0 1318.2L1660.7 1317.3L1667.3 1336.0L1674.0 1337.8L1680.7 1351.8L1687.3 1356.0L1694.0 1345.6L1700.7 1351.8L1707.3 1356.7L1713.3 1368.9L1720.4 1339.3L1727.1 1341.1L1733.8 1338.4L1740.4 1338.2L1747.1 1340.0L1753.8 1343.3L1761.1 1345.6L1767.8 1335.1L1774.9 1331.6L1781.6 1334.0L1788.2 1333.3L1794.9 1336.7L1801.1 1339.3L1807.8 1336.7L1814.4 1331.6L1821.1 1329.6" stroke="#8b5fd6" stroke-width="2.2" fill="none" stroke-linejoin="round"/>
</g>
<path d="M22 158H2228M22 1252H2228M22 1382H2228M2040 59V1442" stroke="#2a2e39" stroke-width="2" fill="none"/>
<rect x="22" y="59" width="2206" height="1383" fill="none" stroke="#2a2e39" stroke-width="2"/>
<text x="1208.96" y="202.3" font-size="26" fill="#26a69a" textLength="110.25" lengthAdjust="spacingAndGlyphs" stroke="#26a69a" stroke-width="0.35">(+0.51%)</text>
<g clip-path="url(#cma)"><text x="2058.83" y="1237.2" font-size="26" fill="#b2b5be" textLength="132.47" lengthAdjust="spacingAndGlyphs" stroke="#b2b5be" stroke-width="0.35">55,000.00</text></g>
<g clip-path="url(#cma)"><text x="2058.81" y="1169.2" font-size="26" fill="#b2b5be" textLength="132.54" lengthAdjust="spacingAndGlyphs" stroke="#b2b5be" stroke-width="0.35">60,000.00</text></g>
<g clip-path="url(#cma)"><text x="2058.81" y="1101.2" font-size="26" fill="#b2b5be" textLength="132.54" lengthAdjust="spacingAndGlyphs" stroke="#b2b5be" stroke-width="0.35">65,000.00</text></g>
<g clip-path="url(#cma)"><text x="2058.84" y="1033.2" font-size="26" fill="#b2b5be" textLength="132.4" lengthAdjust="spacingAndGlyphs" stroke="#b2b5be" stroke-width="0.35">70,000.00</text></g>
<g clip-path="url(#cma)"><text x="2058.84" y="965.2" font-size="26" fill="#b2b5be" textLength="132.4" lengthAdjust="spacingAndGlyphs" stroke="#b2b5be" stroke-width="0.35">75,000.00</text></g>
<g clip-path="url(#cma)"><text x="2059.01" y="897.2" font-size="26" fill="#b2b5be" textLength="132.3" lengthAdjust="spacingAndGlyphs" stroke="#b2b5be" stroke-width="0.35">80,000.00</text></g>
<g clip-path="url(#cma)"><text x="2059.01" y="829.2" font-size="26" fill="#b2b5be" textLength="132.3" lengthAdjust="spacingAndGlyphs" stroke="#b2b5be" stroke-width="0.35">85,000.00</text></g>
<g clip-path="url(#cma)"><text x="2058.89" y="761.2" font-size="26" fill="#b2b5be" textLength="132.22" lengthAdjust="spacingAndGlyphs" stroke="#b2b5be" stroke-width="0.35">90,000.00</text></g>
<g clip-path="url(#cma)"><text x="2058.89" y="693.2" font-size="26" fill="#b2b5be" textLength="132.22" lengthAdjust="spacingAndGlyphs" stroke="#b2b5be" stroke-width="0.35">95,000.00</text></g>
<g clip-path="url(#cma)"><text x="2059.78" y="625.2" font-size="26" fill="#b2b5be" textLength="148.23" lengthAdjust="spacingAndGlyphs" stroke="#b2b5be" stroke-width="0.35">100,000.00</text></g>
<g clip-path="url(#cma)"><text x="2059.78" y="557.2" font-size="26" fill="#b2b5be" textLength="148.23" lengthAdjust="spacingAndGlyphs" stroke="#b2b5be" stroke-width="0.35">105,000.00</text></g>
<g clip-path="url(#cma)"><text x="2059.75" y="490.2" font-size="26" fill="#b2b5be" textLength="148.16" lengthAdjust="spacingAndGlyphs" stroke="#b2b5be" stroke-width="0.35">110,000.00</text></g>
<g clip-path="url(#cma)"><text x="2059.75" y="422.2" font-size="26" fill="#b2b5be" textLength="148.16" lengthAdjust="spacingAndGlyphs" stroke="#b2b5be" stroke-width="0.35">115,000.00</text></g>
<g clip-path="url(#cma)"><text x="2059.78" y="354.2" font-size="26" fill="#b2b5be" textLength="148.23" lengthAdjust="spacingAndGlyphs" stroke="#b2b5be" stroke-width="0.35">120,000.00</text></g>
<g clip-path="url(#cma)"><text x="2059.78" y="286.2" font-size="26" fill="#b2b5be" textLength="148.23" lengthAdjust="spacingAndGlyphs" stroke="#b2b5be" stroke-width="0.35">125,000.00</text></g>
<path d="M2041 1029H2199a4 4 0 0 1 4 4V1094a4 4 0 0 1 -4 4H2041z" fill="#26a69a"/>
<rect x="2048" y="168" width="172" height="56" rx="8" fill="#0f0f0f" stroke="#2e2e2e" stroke-width="1.5"/>
<rect x="1687" y="177" width="334" height="434" fill="#ffffff"/>
<rect x="1691" y="181" width="326" height="78" fill="#171b26"/>
<path d="M1691 211h326M1874 181v78" stroke="rgba(240,243,250,0.07)" stroke-width="2"/>
<rect x="1691" y="181" width="326" height="78" fill="rgba(255,82,82,0.5)"/>
<rect x="1691" y="261" width="326" height="56" fill="#ff5252"/>
<rect x="1691" y="319" width="326" height="56" fill="#ff9800"/>
<rect x="1691" y="377" width="326" height="56" fill="#ffeb3b"/>
<rect x="1691" y="435" width="326" height="56" fill="#4caf50"/>
<rect x="1691" y="493" width="326" height="56" fill="#2962ff"/>
<rect x="1691" y="551" width="326" height="56" fill="#000000"/>
<path d="M26.5 1491H52.5V1524.6H39.5V1504.3H26.5z" fill="#d9d9d9"/>
<circle cx="63.7" cy="1497.8" r="6.9" fill="#d9d9d9"/>
<path d="M75.9 1491H92L79.3 1524.6H63.7z" fill="#d9d9d9"/>
<text x="22.41" y="43.9" font-size="27" fill="#e4e4e4" textLength="851.65" lengthAdjust="spacingAndGlyphs" stroke="#e4e4e4" stroke-width="0.35">VinceQuill created with TradingView.com, Feb 21, 2026 16:39 UTC-5</text>
<text x="40.53" y="103" font-size="26" fill="#c3c6d0" textLength="113.55" lengthAdjust="spacingAndGlyphs" stroke="#c3c6d0" stroke-width="0.35">Vol · BTC</text>
<text x="169.41" y="103" font-size="26" fill="#26a69a" textLength="31.96" lengthAdjust="spacingAndGlyphs" stroke="#26a69a" stroke-width="0.35">42</text>
<text x="39.6" y="202.3" font-size="26" fill="#c3c6d0" textLength="416.51" lengthAdjust="spacingAndGlyphs" stroke="#c3c6d0" stroke-width="0.35">Bitcoin / U.S. Dollar · 1D · Binance</text>
<text x="470.46" y="202.3" font-size="26" fill="#c3c6d0" textLength="20.11" lengthAdjust="spacingAndGlyphs" stroke="#c3c6d0" stroke-width="0.35">O</text>
<text x="491.5" y="202.3" font-size="26" fill="#26a69a" textLength="124.34" lengthAdjust="spacingAndGlyphs" stroke="#26a69a" stroke-width="0.35">67,995.58</text>
<text x="630.18" y="202.3" font-size="26" fill="#c3c6d0" textLength="20.82" lengthAdjust="spacingAndGlyphs" stroke="#c3c6d0" stroke-width="0.35">H</text>
<text x="651.22" y="202.3" font-size="26" fill="#26a69a" textLength="122.0" lengthAdjust="spacingAndGlyphs" stroke="#26a69a" stroke-width="0.35">68,757.64</text>
<text x="788.54" y="202.3" font-size="26" fill="#c3c6d0" textLength="14.86" lengthAdjust="spacingAndGlyphs" stroke="#c3c6d0" stroke-width="0.35">L</text>
<text x="804.75" y="202.3" font-size="26" fill="#26a69a" textLength="118.93" lengthAdjust="spacingAndGlyphs" stroke="#26a69a" stroke-width="0.35">67,547.27</text>
<text x="938.46" y="202.3" font-size="26" fill="#c3c6d0" textLength="18.98" lengthAdjust="spacingAndGlyphs" stroke="#c3c6d0" stroke-width="0.35">C</text>
<text x="957.83" y="202.3" font-size="26" fill="#26a69a" textLength="121.59" lengthAdjust="spacingAndGlyphs" stroke="#26a69a" stroke-width="0.35">68,330.71</text>
<text x="1095.26" y="202.3" font-size="26" fill="#26a69a" textLength="104.66" lengthAdjust="spacingAndGlyphs" stroke="#26a69a" stroke-width="0.35">+349.02</text>
<text x="39.56" y="240" font-size="26" fill="#c3c6d0" textLength="308.75" lengthAdjust="spacingAndGlyphs" stroke="#c3c6d0" stroke-width="0.35">Moving Average Explorer</text>
<text x="40.38" y="1296.6" font-size="26" fill="#c3c6d0" textLength="41.05" lengthAdjust="spacingAndGlyphs" stroke="#c3c6d0" stroke-width="0.35">RSI</text>
<text x="96.97" y="1296.6" font-size="26" fill="#8b5fd6" textLength="72.0" lengthAdjust="spacingAndGlyphs" stroke="#8b5fd6" stroke-width="0.35">38.34</text>
<text x="2059.36" y="83.3" font-size="26" fill="#b2b5be" textLength="15.3" lengthAdjust="spacingAndGlyphs" stroke="#b2b5be" stroke-width="0.35">2</text>
<text x="2079.15" y="83.3" font-size="26" fill="#b2b5be" textLength="17.6" lengthAdjust="spacingAndGlyphs" stroke="#b2b5be" stroke-width="0.35">K</text>
<g clip-path="url(#cra)"><text x="2058.5" y="1268.5" font-size="26" fill="#b2b5be" textLength="75.08" lengthAdjust="spacingAndGlyphs" stroke="#b2b5be" stroke-width="0.35">80.00</text></g>
<g clip-path="url(#cra)"><text x="2059.18" y="1336.6" font-size="26" fill="#b2b5be" textLength="74.61" lengthAdjust="spacingAndGlyphs" stroke="#b2b5be" stroke-width="0.35">40.00</text></g>
<text x="2059.84" y="1055.2" font-size="26" fill="#ffffff" textLength="130.26" lengthAdjust="spacingAndGlyphs" stroke="#ffffff" stroke-width="0.35">68,330.71</text>
<text x="2060.14" y="1086.6" font-size="26" fill="rgba(255,255,255,0.8)" textLength="114.77" lengthAdjust="spacingAndGlyphs" stroke="rgba(255,255,255,0.8)" stroke-width="0.35">02:20:04</text>
<text x="2067.27" y="205.3" font-size="26" fill="#dbdbdb" textLength="56.09" lengthAdjust="spacingAndGlyphs" stroke="#dbdbdb" stroke-width="0.35">USD</text>
<text x="40.69" y="1423.3" font-size="26" fill="#b2b5be" textLength="45.97" lengthAdjust="spacingAndGlyphs" stroke="#b2b5be" stroke-width="0.35">Jun</text>
<text x="244.7" y="1423.3" font-size="26" fill="#b2b5be" textLength="35.96" lengthAdjust="spacingAndGlyphs" stroke="#b2b5be" stroke-width="0.35">Jul</text>
<text x="444.28" y="1423.3" font-size="26" fill="#b2b5be" textLength="48.19" lengthAdjust="spacingAndGlyphs" stroke="#b2b5be" stroke-width="0.35">Aug</text>
<text x="648.33" y="1423.3" font-size="26" fill="#b2b5be" textLength="48.81" lengthAdjust="spacingAndGlyphs" stroke="#b2b5be" stroke-width="0.35">Sep</text>
<text x="849.45" y="1423.3" font-size="26" fill="#b2b5be" textLength="44.2" lengthAdjust="spacingAndGlyphs" stroke="#b2b5be" stroke-width="0.35">Oct</text>
<text x="1052.46" y="1423.3" font-size="26" fill="#b2b5be" textLength="49.35" lengthAdjust="spacingAndGlyphs" stroke="#b2b5be" stroke-width="0.35">Nov</text>
<text x="1250.36" y="1423.3" font-size="26" fill="#b2b5be" textLength="51.64" lengthAdjust="spacingAndGlyphs" stroke="#b2b5be" stroke-width="0.35">Dec</text>
<text x="1447.42" y="1423.3" font-size="26" fill="#b2b5be" textLength="70.46" lengthAdjust="spacingAndGlyphs" font-weight="bold">2026</text>
<text x="1663.22" y="1423.3" font-size="26" fill="#b2b5be" textLength="48.68" lengthAdjust="spacingAndGlyphs" stroke="#b2b5be" stroke-width="0.35">Feb</text>
<text x="1847.68" y="1423.3" font-size="26" fill="#b2b5be" textLength="49.68" lengthAdjust="spacingAndGlyphs" stroke="#b2b5be" stroke-width="0.35">Mar</text>
<text x="1716.46" y="235.9" font-size="44" fill="#ffffff" textLength="265.44" lengthAdjust="spacingAndGlyphs">Bearish Trend</text>
<text x="1702.23" y="299.6" font-size="29.5" fill="#000" textLength="269.25" lengthAdjust="spacingAndGlyphs">21 EMA: 71285.92</text>
<text x="1702.26" y="357.6" font-size="29.5" fill="#000" textLength="275.8" lengthAdjust="spacingAndGlyphs">50-EMA: 78268.75</text>
<text x="1702.21" y="415.6" font-size="29.5" fill="#000" textLength="292.1" lengthAdjust="spacingAndGlyphs">200-EMA: 92574.41</text>
<text x="1702.28" y="473.6" font-size="29.5" fill="#000" textLength="256.06" lengthAdjust="spacingAndGlyphs">9-EMA: 68190.70</text>
<text x="1702.27" y="531.6" font-size="29.5" fill="#000" textLength="293.99" lengthAdjust="spacingAndGlyphs">365-EMA: 93522.80</text>
<text x="1756.46" y="589.6" font-size="29.5" fill="#fff" textLength="196.55" lengthAdjust="spacingAndGlyphs">ATR: 3242.16</text>
<text x="107.16" y="1524.6" font-size="46.5" fill="#d9d9d9" textLength="265.94" lengthAdjust="spacingAndGlyphs" font-weight="bold">TradingView</text>
</svg>
</body></html>
